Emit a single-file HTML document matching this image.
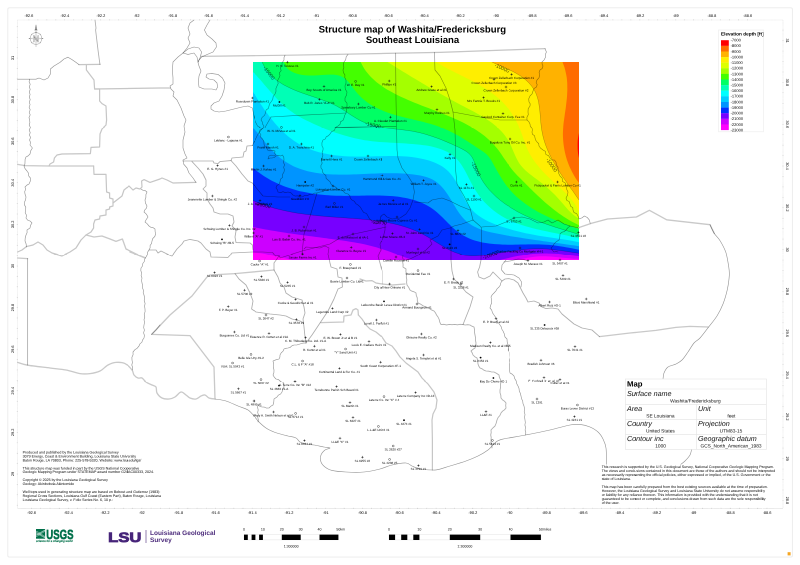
<!DOCTYPE html>
<html lang="en"><head><meta charset="utf-8"><title>Structure map of Washita/Fredericksburg - Southeast Louisiana</title>
<style>html,body{margin:0;padding:0;background:#fff}svg{display:block}text{font-family:"Liberation Sans",Arial,sans-serif}</style></head><body>
<div style="width:800px;height:565px;overflow:hidden;position:relative"><div style="width:1600px;height:1130px;transform:scale(0.5);transform-origin:0 0;will-change:transform">
<svg width="1600" height="1130" viewBox="0 0 800 565" text-rendering="geometricPrecision">
<defs><filter id="bl" x="0" y="0" width="800" height="565" filterUnits="userSpaceOnUse" color-interpolation-filters="sRGB"><feGaussianBlur stdDeviation="0.3"/></filter></defs>
<g filter="url(#bl)">
<rect x="-5" y="-5" width="810" height="575" fill="#fff"/>
<rect x="7.8" y="7.8" width="784.6" height="549.3" rx="1.6" fill="none" stroke="#ebebeb" stroke-width="0.9"/>
<rect x="17.5" y="20" width="765.5" height="488.3" fill="none" stroke="#dcdcdc" stroke-width="0.6" stroke-dasharray="0.6 0.5"/>
<g font-size="3.9" fill="#000" text-anchor="middle">
<text x="28.9" y="17.2">-92.6</text>
<text x="31.6" y="513.9">-92.6</text>
<text x="64.8" y="17.2">-92.4</text>
<text x="68.4" y="513.9">-92.4</text>
<text x="100.8" y="17.2">-92.2</text>
<text x="105.1" y="513.9">-92.2</text>
<text x="136.7" y="17.2">-92</text>
<text x="141.9" y="513.9">-92</text>
<text x="172.7" y="17.2">-91.8</text>
<text x="178.7" y="513.9">-91.8</text>
<text x="208.6" y="17.2">-91.6</text>
<text x="215.4" y="513.9">-91.6</text>
<text x="244.5" y="17.2">-91.4</text>
<text x="252.2" y="513.9">-91.4</text>
<text x="280.5" y="17.2">-91.2</text>
<text x="289" y="513.9">-91.2</text>
<text x="316.4" y="17.2">-91</text>
<text x="325.8" y="513.9">-91</text>
<text x="352.4" y="17.2">-90.8</text>
<text x="362.5" y="513.9">-90.8</text>
<text x="388.3" y="17.2">-90.6</text>
<text x="399.3" y="513.9">-90.6</text>
<text x="424.2" y="17.2">-90.4</text>
<text x="436.1" y="513.9">-90.4</text>
<text x="460.2" y="17.2">-90.2</text>
<text x="472.8" y="513.9">-90.2</text>
<text x="496.1" y="17.2">-90</text>
<text x="509.6" y="513.9">-90</text>
<text x="532.1" y="17.2">-89.8</text>
<text x="546.4" y="513.9">-89.8</text>
<text x="568" y="17.2">-89.6</text>
<text x="583.1" y="513.9">-89.6</text>
<text x="603.9" y="17.2">-89.4</text>
<text x="619.9" y="513.9">-89.4</text>
<text x="639.9" y="17.2">-89.2</text>
<text x="656.7" y="513.9">-89.2</text>
<text x="675.8" y="17.2">-89</text>
<text x="693.5" y="513.9">-89</text>
<text x="711.8" y="17.2">-88.8</text>
<text x="730.2" y="513.9">-88.8</text>
<text x="747.7" y="17.2">-88.6</text>
<text x="767" y="513.9">-88.6</text>
<text transform="translate(14.2 58) rotate(-90)">31</text>
<text transform="translate(785.8 40.6) rotate(90)">31</text>
<text transform="translate(14.2 99.6) rotate(-90)">30.8</text>
<text transform="translate(785.8 82.4) rotate(90)">30.8</text>
<text transform="translate(14.2 141.2) rotate(-90)">30.6</text>
<text transform="translate(785.8 124.2) rotate(90)">30.6</text>
<text transform="translate(14.2 182.8) rotate(-90)">30.4</text>
<text transform="translate(785.8 166) rotate(90)">30.4</text>
<text transform="translate(14.2 224.4) rotate(-90)">30.2</text>
<text transform="translate(785.8 207.8) rotate(90)">30.2</text>
<text transform="translate(14.2 266) rotate(-90)">30</text>
<text transform="translate(785.8 249.6) rotate(90)">30</text>
<text transform="translate(14.2 307.6) rotate(-90)">29.8</text>
<text transform="translate(785.8 291.4) rotate(90)">29.8</text>
<text transform="translate(14.2 349.2) rotate(-90)">29.6</text>
<text transform="translate(785.8 333.2) rotate(90)">29.6</text>
<text transform="translate(14.2 390.8) rotate(-90)">29.4</text>
<text transform="translate(785.8 375) rotate(90)">29.4</text>
<text transform="translate(14.2 432.4) rotate(-90)">29.2</text>
<text transform="translate(785.8 416.8) rotate(90)">29.2</text>
<text transform="translate(14.2 474) rotate(-90)">29</text>
<text transform="translate(785.8 458.6) rotate(90)">29</text>
<text transform="translate(785.8 500.4) rotate(90)">28.8</text>
</g>
<path d="M28.9 19.2v1.2M31.6 507.8v1.2M37.9 19.2v1.2M40.8 507.8v1.2M46.9 19.2v1.2M50 507.8v1.2M55.9 19.2v1.2M59.2 507.8v1.2M64.8 19.2v1.2M68.4 507.8v1.2M73.8 19.2v1.2M77.6 507.8v1.2M82.8 19.2v1.2M86.8 507.8v1.2M91.8 19.2v1.2M95.9 507.8v1.2M100.8 19.2v1.2M105.1 507.8v1.2M109.8 19.2v1.2M114.3 507.8v1.2M118.8 19.2v1.2M123.5 507.8v1.2M127.7 19.2v1.2M132.7 507.8v1.2M136.7 19.2v1.2M141.9 507.8v1.2M145.7 19.2v1.2M151.1 507.8v1.2M154.7 19.2v1.2M160.3 507.8v1.2M163.7 19.2v1.2M169.5 507.8v1.2M172.7 19.2v1.2M178.7 507.8v1.2M181.6 19.2v1.2M187.9 507.8v1.2M190.6 19.2v1.2M197.1 507.8v1.2M199.6 19.2v1.2M206.3 507.8v1.2M208.6 19.2v1.2M215.4 507.8v1.2M217.6 19.2v1.2M224.6 507.8v1.2M226.6 19.2v1.2M233.8 507.8v1.2M235.6 19.2v1.2M243 507.8v1.2M244.5 19.2v1.2M252.2 507.8v1.2M253.5 19.2v1.2M261.4 507.8v1.2M262.5 19.2v1.2M270.6 507.8v1.2M271.5 19.2v1.2M279.8 507.8v1.2M280.5 19.2v1.2M289 507.8v1.2M289.5 19.2v1.2M298.2 507.8v1.2M298.4 19.2v1.2M307.4 507.8v1.2M307.4 19.2v1.2M316.6 507.8v1.2M316.4 19.2v1.2M325.8 507.8v1.2M325.4 19.2v1.2M335 507.8v1.2M334.4 19.2v1.2M344.1 507.8v1.2M343.4 19.2v1.2M353.3 507.8v1.2M352.4 19.2v1.2M362.5 507.8v1.2M361.3 19.2v1.2M371.7 507.8v1.2M370.3 19.2v1.2M380.9 507.8v1.2M379.3 19.2v1.2M390.1 507.8v1.2M388.3 19.2v1.2M399.3 507.8v1.2M397.3 19.2v1.2M408.5 507.8v1.2M406.3 19.2v1.2M417.7 507.8v1.2M415.3 19.2v1.2M426.9 507.8v1.2M424.2 19.2v1.2M436.1 507.8v1.2M433.2 19.2v1.2M445.3 507.8v1.2M442.2 19.2v1.2M454.5 507.8v1.2M451.2 19.2v1.2M463.6 507.8v1.2M460.2 19.2v1.2M472.8 507.8v1.2M469.2 19.2v1.2M482 507.8v1.2M478.1 19.2v1.2M491.2 507.8v1.2M487.1 19.2v1.2M500.4 507.8v1.2M496.1 19.2v1.2M509.6 507.8v1.2M505.1 19.2v1.2M518.8 507.8v1.2M514.1 19.2v1.2M528 507.8v1.2M523.1 19.2v1.2M537.2 507.8v1.2M532.1 19.2v1.2M546.4 507.8v1.2M541 19.2v1.2M555.6 507.8v1.2M550 19.2v1.2M564.8 507.8v1.2M559 19.2v1.2M574 507.8v1.2M568 19.2v1.2M583.1 507.8v1.2M577 19.2v1.2M592.3 507.8v1.2M586 19.2v1.2M601.5 507.8v1.2M595 19.2v1.2M610.7 507.8v1.2M603.9 19.2v1.2M619.9 507.8v1.2M612.9 19.2v1.2M629.1 507.8v1.2M621.9 19.2v1.2M638.3 507.8v1.2M630.9 19.2v1.2M647.5 507.8v1.2M639.9 19.2v1.2M656.7 507.8v1.2M648.9 19.2v1.2M665.9 507.8v1.2M657.8 19.2v1.2M675.1 507.8v1.2M666.8 19.2v1.2M684.3 507.8v1.2M675.8 19.2v1.2M693.5 507.8v1.2M684.8 19.2v1.2M702.7 507.8v1.2M693.8 19.2v1.2M711.8 507.8v1.2M702.8 19.2v1.2M721 507.8v1.2M711.8 19.2v1.2M730.2 507.8v1.2M720.7 19.2v1.2M739.4 507.8v1.2M729.7 19.2v1.2M748.6 507.8v1.2M738.7 19.2v1.2M757.8 507.8v1.2M747.7 19.2v1.2M767 507.8v1.2M16.8 26.8h1.2M16.8 37.2h1.2M16.8 47.6h1.2M782.4 30.1h1.2M16.8 58h1.2M782.4 40.6h1.2M16.8 68.4h1.2M782.4 51.1h1.2M16.8 78.8h1.2M782.4 61.5h1.2M16.8 89.2h1.2M782.4 72h1.2M16.8 99.6h1.2M782.4 82.4h1.2M16.8 110h1.2M782.4 92.8h1.2M16.8 120.4h1.2M782.4 103.3h1.2M16.8 130.8h1.2M782.4 113.8h1.2M16.8 141.2h1.2M782.4 124.2h1.2M16.8 151.6h1.2M782.4 134.6h1.2M16.8 162h1.2M782.4 145.1h1.2M16.8 172.4h1.2M782.4 155.6h1.2M16.8 182.8h1.2M782.4 166h1.2M16.8 193.2h1.2M782.4 176.5h1.2M16.8 203.6h1.2M782.4 186.9h1.2M16.8 214h1.2M782.4 197.3h1.2M16.8 224.4h1.2M782.4 207.8h1.2M16.8 234.8h1.2M782.4 218.3h1.2M16.8 245.2h1.2M782.4 228.7h1.2M16.8 255.6h1.2M782.4 239.1h1.2M16.8 266h1.2M782.4 249.6h1.2M16.8 276.4h1.2M782.4 260.1h1.2M16.8 286.8h1.2M782.4 270.5h1.2M16.8 297.2h1.2M782.4 281h1.2M16.8 307.6h1.2M782.4 291.4h1.2M16.8 318h1.2M782.4 301.9h1.2M16.8 328.4h1.2M782.4 312.3h1.2M16.8 338.8h1.2M782.4 322.8h1.2M16.8 349.2h1.2M782.4 333.2h1.2M16.8 359.6h1.2M782.4 343.6h1.2M16.8 370h1.2M782.4 354.1h1.2M16.8 380.4h1.2M782.4 364.6h1.2M16.8 390.8h1.2M782.4 375h1.2M16.8 401.2h1.2M782.4 385.5h1.2M16.8 411.6h1.2M782.4 395.9h1.2M16.8 422h1.2M782.4 406.4h1.2M16.8 432.4h1.2M782.4 416.8h1.2M16.8 442.8h1.2M782.4 427.3h1.2M16.8 453.2h1.2M782.4 437.7h1.2M16.8 463.6h1.2M782.4 448.1h1.2M16.8 474h1.2M782.4 458.6h1.2M16.8 484.4h1.2M782.4 469.1h1.2M16.8 494.8h1.2M782.4 479.5h1.2M16.8 505.2h1.2M782.4 490h1.2M782.4 500.4h1.2" stroke="#c8c8c8" stroke-width="0.5" fill="none"/>
<defs><clipPath id="cr"><rect x="253" y="62" width="326" height="198"/></clipPath></defs>
<g clip-path="url(#cr)">
<rect x="253" y="62" width="326" height="198" fill="#ff6c00"/>
<path d="M560.4 56.4 C560.8 57.3 561.8 60.2 562.5 62 C563.2 63.8 563.8 65.4 564.4 67.1 C564.9 68.8 565.4 70.5 565.7 72.2 C566.1 73.9 566.4 75.6 566.7 77.3 C566.9 79 567.1 80.8 567.2 82.5 C567.3 84.2 567.3 85.9 567.3 87.6 C567.4 89.4 567.3 91.1 567.2 92.8 C567.2 94.5 567 96.3 566.9 98 C566.7 99.7 566.5 101.5 566.3 103.2 C566.1 104.9 565.9 106.7 565.7 108.4 C565.4 110.1 565.2 111.9 564.9 113.6 C564.7 115.3 564.4 117.1 564.2 118.8 C563.9 120.5 563.7 122.3 563.5 124 C563.3 125.7 563.2 127.5 563.1 129.2 C563 130.9 562.9 132.6 562.9 134.4 C562.9 136.1 563 137.8 563.1 139.5 C563.2 141.2 563.4 142.9 563.6 144.6 C563.8 146.3 564.1 148 564.4 149.7 C564.7 151.4 565.1 153.1 565.5 154.7 C565.9 156.4 566.4 158.1 566.9 159.7 C567.5 161.3 568.1 163 568.7 164.6 C569.3 166.2 570 167.8 570.8 169.3 C571.5 170.9 572.3 172.5 573.2 174 C574.1 175.6 575 177.1 575.9 178.6 C576.9 180.1 577.9 181.4 579 183 C580.1 184.6 581.8 187.1 582.4 187.9 L609 187.9 L609 290 L223 290 L223 32 L560.4 32Z" fill="#ffb200"/>
<path d="M486.6 59.5 C487.5 59.9 490.4 61.2 492 62 C493.6 62.8 494.9 63.4 496.4 64.1 C498 64.8 499.6 65.4 501.2 66.1 C502.8 66.8 504.5 67.6 506.1 68.3 C507.8 69.1 509.4 69.8 511.1 70.6 C512.7 71.4 514.4 72.3 516 73.2 C517.5 74.1 519.1 75 520.6 76 C522.1 77 523.5 78.1 524.9 79.2 C526.2 80.3 527.5 81.5 528.7 82.7 C529.9 84 531 85.3 532 86.6 C533 88 534 89.4 534.7 90.8 C535.5 92.3 536.2 93.8 536.7 95.4 C537.3 97 537.8 98.6 538.2 100.3 C538.6 101.9 538.9 103.6 539.1 105.4 C539.4 107.1 539.6 108.9 539.8 110.6 C540 112.4 540.1 114.2 540.3 116 C540.4 117.8 540.5 119.6 540.7 121.3 C540.9 123.1 541 124.9 541.3 126.7 C541.5 128.4 541.7 130.2 542.1 131.9 C542.4 133.6 542.7 135.3 543.2 137 C543.6 138.7 544.1 140.4 544.6 142 C545.1 143.6 545.7 145.2 546.3 146.8 C546.9 148.4 547.6 150 548.3 151.6 C549 153.1 549.7 154.7 550.5 156.2 C551.2 157.8 552 159.3 552.9 160.8 C553.7 162.3 554.6 163.8 555.4 165.3 C556.3 166.8 557.2 168.2 558.1 169.7 C559.1 171.2 560 172.6 561 174.1 C561.9 175.5 562.9 177 563.9 178.4 C564.9 179.9 565.9 181.3 566.9 182.7 C567.9 184.2 568.9 185.6 569.9 187 C570.9 188.5 572 189.9 573 191.3 C574 192.8 575 194.2 576 195.7 C577 197.1 577.9 198.5 579 200 C580.1 201.5 581.8 204.1 582.4 204.9 L609 204.9 L609 290 L223 290 L223 32 L486.6 32Z" fill="#ffee00"/>
<path d="M430.9 58.9 C431.7 59.4 434.4 61.1 436 62 C437.6 62.9 438.9 63.7 440.3 64.6 C441.8 65.4 443.3 66.3 444.8 67.1 C446.3 67.9 447.8 68.7 449.4 69.5 C450.9 70.3 452.5 71.1 454 71.9 C455.6 72.7 457.2 73.5 458.8 74.2 C460.4 75 462 75.8 463.6 76.6 C465.1 77.4 466.7 78.2 468.3 79 C469.9 79.8 471.5 80.6 473.1 81.5 C474.6 82.3 476.2 83.2 477.7 84 C479.3 84.9 480.8 85.8 482.3 86.7 C483.8 87.6 485.3 88.5 486.8 89.5 C488.3 90.4 489.7 91.4 491.1 92.4 C492.5 93.5 493.9 94.5 495.3 95.6 C496.6 96.7 497.9 97.8 499.2 98.9 C500.5 100.1 501.7 101.3 502.9 102.5 C504.1 103.7 505.2 105 506.3 106.3 C507.4 107.6 508.5 109 509.5 110.3 C510.5 111.7 511.5 113.1 512.4 114.6 C513.4 116 514.2 117.5 515.1 119 C515.9 120.5 516.7 122 517.5 123.6 C518.2 125.2 518.9 126.7 519.6 128.4 C520.3 130 520.9 131.6 521.5 133.3 C522.1 134.9 522.7 136.6 523.2 138.3 C523.8 139.9 524.4 141.6 525 143.2 C525.6 144.9 526.2 146.5 526.9 148.1 C527.6 149.7 528.4 151.2 529.1 152.7 C529.9 154.3 530.8 155.7 531.7 157.2 C532.6 158.6 533.6 160.1 534.5 161.4 C535.5 162.8 536.6 164.2 537.7 165.5 C538.7 166.9 539.9 168.2 541 169.5 C542.1 170.8 543.3 172 544.5 173.3 C545.7 174.5 547 175.7 548.2 177 C549.5 178.2 550.7 179.4 552 180.6 C553.3 181.8 554.6 182.9 555.9 184.1 C557.2 185.3 558.5 186.4 559.8 187.6 C561.1 188.8 562.4 190 563.6 191.2 C564.9 192.4 566.1 193.6 567.3 194.8 C568.5 196.1 569.7 197.4 570.8 198.7 C571.9 200 573 201.4 574 202.8 C574.9 204.2 575.9 205.7 576.7 207.2 C577.6 208.7 578.2 210.3 579 212 C579.8 213.7 581.1 216.5 581.6 217.4 L609 217.4 L609 290 L223 290 L223 32 L430.9 32Z" fill="#ddff00"/>
<path d="M382.4 58.8 C383.3 59.4 385.9 61 387.5 62 C389.1 63 390.5 63.9 392 64.8 C393.4 65.7 394.9 66.6 396.4 67.5 C397.9 68.4 399.3 69.3 400.8 70.2 C402.3 71.1 403.7 72 405.2 72.9 C406.7 73.8 408.1 74.7 409.6 75.6 C411 76.5 412.5 77.4 414 78.3 C415.4 79.1 416.9 80 418.4 80.9 C419.8 81.8 421.3 82.6 422.7 83.5 C424.2 84.4 425.7 85.2 427.1 86.1 C428.6 86.9 430.1 87.8 431.5 88.7 C433 89.5 434.5 90.4 436 91.2 C437.5 92.1 438.9 92.9 440.4 93.7 C441.9 94.6 443.4 95.4 444.9 96.3 C446.4 97.1 447.9 97.9 449.4 98.7 C450.9 99.6 452.4 100.4 454 101.2 C455.5 102 457 102.9 458.6 103.7 C460.1 104.5 461.6 105.3 463.2 106.1 C464.7 106.9 466.3 107.8 467.9 108.6 C469.4 109.4 471 110.2 472.5 111 C474.1 111.9 475.6 112.7 477.2 113.6 C478.7 114.4 480.2 115.3 481.7 116.2 C483.2 117.1 484.7 118 486.1 118.9 C487.6 119.9 489 120.8 490.4 121.8 C491.8 122.8 493.1 123.8 494.4 124.9 C495.8 126 497 127.1 498.3 128.2 C499.5 129.4 500.7 130.5 501.8 131.8 C502.9 133 504 134.3 505 135.6 C506 137 507 138.4 507.8 139.8 C508.7 141.3 509.5 142.8 510.3 144.3 C511 145.9 511.7 147.5 512.4 149.1 C513.1 150.8 513.8 152.4 514.5 154 C515.2 155.6 515.9 157.2 516.7 158.8 C517.5 160.3 518.3 161.8 519.2 163.2 C520.2 164.6 521.2 165.9 522.3 167.1 C523.4 168.4 524.6 169.5 525.8 170.7 C527.1 171.8 528.4 172.9 529.7 174 C531 175 532.4 176 533.7 177.1 C535.1 178.1 536.5 179.1 537.9 180.1 C539.3 181.2 540.6 182.2 542 183.3 C543.3 184.3 544.6 185.4 545.9 186.5 C547.2 187.7 548.5 188.8 549.8 190 C551 191.1 552.3 192.3 553.5 193.5 C554.7 194.7 555.9 195.9 557.1 197.2 C558.2 198.4 559.4 199.7 560.5 201 C561.7 202.3 562.8 203.6 563.9 204.9 C565 206.2 566.1 207.5 567.2 208.7 C568.4 210 569.5 211.3 570.8 212.5 C572 213.6 573.2 214.8 574.6 215.8 C576 216.9 577.4 217.7 579 218.7 C580.6 219.7 583.2 221.4 584 222 L609 222 L609 290 L223 290 L223 32 L382.4 32Z" fill="#a4ff00"/>
<path d="M357.8 56.7 C358.3 57.6 359.7 60.3 360.6 62 C361.5 63.7 362.2 65.2 363.1 66.7 C364 68.2 364.9 69.7 365.9 71.1 C367 72.5 368.1 73.8 369.2 75.1 C370.3 76.4 371.5 77.6 372.8 78.8 C374 80 375.3 81.1 376.6 82.2 C378 83.2 379.3 84.3 380.7 85.3 C382.1 86.3 383.5 87.2 385 88.2 C386.4 89.1 387.9 90 389.4 90.8 C390.9 91.7 392.4 92.5 393.9 93.3 C395.4 94.1 397 94.9 398.5 95.6 C400 96.4 401.6 97.1 403.1 97.8 C404.7 98.5 406.2 99.2 407.8 99.9 C409.4 100.6 410.9 101.2 412.5 101.9 C414.1 102.5 415.7 103.2 417.3 103.8 C418.9 104.4 420.5 105.1 422.1 105.7 C423.6 106.3 425.3 106.9 426.9 107.5 C428.5 108.1 430.1 108.7 431.7 109.4 C433.3 110 434.9 110.6 436.6 111.2 C438.2 111.8 439.8 112.5 441.4 113.1 C443.1 113.8 444.7 114.4 446.3 115.1 C447.9 115.7 449.5 116.4 451.1 117.1 C452.7 117.8 454.3 118.5 455.9 119.2 C457.5 119.9 459.1 120.6 460.6 121.4 C462.2 122.1 463.7 122.9 465.3 123.7 C466.8 124.5 468.3 125.3 469.8 126.2 C471.3 127 472.8 127.9 474.2 128.8 C475.7 129.7 477.1 130.6 478.5 131.6 C479.9 132.5 481.3 133.5 482.6 134.5 C484 135.5 485.3 136.6 486.6 137.7 C487.8 138.8 489.1 139.9 490.3 141.1 C491.5 142.3 492.7 143.5 493.9 144.7 C495 146 496.1 147.3 497.2 148.6 C498.3 149.9 499.3 151.3 500.3 152.8 C501.3 154.2 502.3 155.6 503.2 157.1 C504.2 158.5 505.2 160 506.2 161.4 C507.1 162.8 508.1 164.3 509.1 165.7 C510.1 167.1 511.2 168.4 512.2 169.8 C513.3 171.1 514.4 172.4 515.6 173.6 C516.7 174.9 517.9 176.1 519.1 177.3 C520.3 178.5 521.5 179.7 522.7 180.9 C523.9 182.1 525.1 183.3 526.3 184.5 C527.5 185.7 528.7 186.9 529.9 188.1 C531.2 189.3 532.4 190.5 533.6 191.7 C534.9 192.9 536.1 194.1 537.3 195.2 C538.6 196.4 539.8 197.6 541.1 198.7 C542.4 199.9 543.6 201.1 544.9 202.2 C546.2 203.3 547.5 204.4 548.8 205.5 C550.2 206.6 551.5 207.7 552.8 208.8 C554.2 209.9 555.5 210.9 556.9 211.9 C558.3 213 559.7 214 561.1 214.9 C562.5 215.9 563.9 216.9 565.4 217.8 C566.8 218.7 568.3 219.6 569.8 220.5 C571.3 221.3 572.8 222.1 574.3 222.9 C575.9 223.7 577.3 224.4 579 225.2 C580.7 226 583.5 227.4 584.4 227.8 L609 227.8 L609 290 L223 290 L223 32 L357.8 32Z" fill="#44ff00"/>
<path d="M281.1 56.6 C281.5 57.5 282.9 60.3 283.7 62 C284.6 63.7 285.1 65.3 286.1 66.7 C287 68 288.2 69.2 289.5 70.2 C290.8 71.1 292.3 71.9 293.8 72.6 C295.4 73.3 297 73.8 298.7 74.2 C300.3 74.6 302 74.9 303.7 75.1 C305.4 75.3 307.1 75.4 308.8 75.5 C310.5 75.6 312.2 75.5 313.9 75.5 C315.6 75.4 317.3 75.3 319 75.2 C320.7 75.1 322.4 75 324.2 74.9 C325.9 74.8 327.6 74.6 329.4 74.6 C331.1 74.6 332.8 74.5 334.5 74.7 C336.1 74.9 337.8 75.1 339.3 75.6 C340.8 76 342.2 76.7 343.6 77.6 C344.9 78.4 346.2 79.6 347.4 80.8 C348.6 82 349.7 83.4 350.8 84.8 C351.9 86.2 352.9 87.8 354.1 89.2 C355.2 90.6 356.3 92 357.4 93.4 C358.6 94.7 359.8 95.9 361 97.1 C362.3 98.3 363.5 99.4 364.8 100.4 C366.1 101.5 367.5 102.5 368.8 103.4 C370.2 104.3 371.6 105.2 373 106 C374.4 106.8 375.9 107.6 377.4 108.3 C378.8 109 380.3 109.7 381.8 110.3 C383.3 111 384.9 111.5 386.4 112.1 C388 112.7 389.6 113.2 391.1 113.7 C392.7 114.2 394.3 114.7 395.9 115.2 C397.5 115.6 399.2 116.1 400.8 116.5 C402.4 116.9 404.1 117.3 405.7 117.7 C407.4 118.1 409 118.5 410.7 118.9 C412.3 119.3 414 119.7 415.6 120.1 C417.3 120.5 418.9 120.9 420.6 121.3 C422.3 121.7 423.9 122.1 425.6 122.6 C427.2 123 428.8 123.5 430.5 123.9 C432.1 124.4 433.7 124.9 435.3 125.4 C436.9 126 438.6 126.5 440.1 127.1 C441.7 127.7 443.3 128.3 444.8 129 C446.4 129.7 447.9 130.4 449.5 131.1 C451 131.8 452.5 132.6 454 133.4 C455.5 134.2 457 135 458.5 135.8 C459.9 136.7 461.4 137.5 462.8 138.4 C464.3 139.3 465.7 140.2 467.2 141.1 C468.6 142 470 142.9 471.4 143.9 C472.9 144.8 474.3 145.7 475.7 146.7 C477.1 147.6 478.5 148.5 479.9 149.5 C481.3 150.4 482.7 151.3 484 152.3 C485.3 153.3 486.6 154.3 487.7 155.5 C488.8 156.7 489.7 158 490.6 159.3 C491.5 160.7 492.3 162.2 493.1 163.6 C493.9 165.1 494.7 166.6 495.5 168 C496.3 169.5 497.1 171 498 172.4 C498.8 173.9 499.7 175.4 500.6 176.8 C501.5 178.3 502.4 179.7 503.3 181.1 C504.3 182.5 505.2 183.9 506.2 185.3 C507.2 186.6 508.3 187.9 509.4 189.2 C510.5 190.5 511.6 191.7 512.7 192.9 C513.9 194.2 515.1 195.3 516.3 196.5 C517.6 197.6 518.8 198.7 520.1 199.8 C521.4 200.8 522.8 201.9 524.1 202.9 C525.5 203.9 526.8 204.9 528.2 205.8 C529.6 206.8 531.1 207.7 532.5 208.6 C534 209.5 535.4 210.3 536.9 211.2 C538.4 212 539.9 212.8 541.4 213.6 C543 214.4 544.5 215.2 546 215.9 C547.6 216.6 549.1 217.4 550.7 218.1 C552.3 218.8 553.8 219.5 555.4 220.1 C557 220.8 558.6 221.4 560.2 222.1 C561.7 222.7 563.3 223.3 564.9 223.9 C566.5 224.5 568.1 225.1 569.6 225.7 C571.2 226.3 572.8 226.8 574.3 227.4 C575.9 227.9 577.3 228.4 579 229 C580.7 229.6 583.7 230.7 584.7 231 L609 231 L609 290 L223 290 L223 32 L281.1 32Z" fill="#00ff64"/>
<path d="M259.3 56.7 C259.7 57.6 261.1 60.3 262 62 C262.9 63.7 263.6 65.2 264.4 66.7 C265.3 68.2 266.3 69.7 267.3 71 C268.3 72.3 269.4 73.6 270.6 74.8 C271.7 76 272.9 77.1 274.2 78.2 C275.4 79.3 276.8 80.3 278.1 81.3 C279.5 82.2 280.9 83.1 282.3 84 C283.7 84.9 285.2 85.7 286.7 86.4 C288.2 87.2 289.7 87.9 291.3 88.6 C292.8 89.3 294.4 90 296 90.7 C297.6 91.3 299.2 91.9 300.8 92.5 C302.4 93.1 304.1 93.7 305.7 94.2 C307.3 94.8 308.9 95.3 310.6 95.9 C312.2 96.4 313.8 97 315.4 97.5 C317 98 318.6 98.6 320.2 99.1 C321.8 99.7 323.4 100.3 324.9 100.9 C326.5 101.4 328 102.1 329.6 102.7 C331.1 103.4 332.6 104.1 334.1 104.8 C335.7 105.5 337.1 106.3 338.6 107.2 C340.1 108 341.6 108.9 343 109.8 C344.5 110.7 345.9 111.7 347.4 112.6 C348.8 113.6 350.3 114.6 351.7 115.5 C353.2 116.4 354.7 117.4 356.1 118.2 C357.6 119.1 359.1 119.9 360.6 120.7 C362.1 121.5 363.6 122.2 365.2 122.8 C366.7 123.4 368.3 124 369.9 124.5 C371.5 125 373.1 125.4 374.7 125.8 C376.3 126.2 378 126.5 379.6 126.8 C381.3 127.1 382.9 127.4 384.6 127.7 C386.3 127.9 387.9 128.1 389.6 128.3 C391.3 128.5 393 128.7 394.7 128.9 C396.4 129.1 398.1 129.3 399.7 129.5 C401.4 129.7 403.1 129.8 404.8 130.1 C406.5 130.3 408.2 130.5 409.8 130.8 C411.5 131 413.2 131.3 414.8 131.7 C416.5 132 418.1 132.3 419.7 132.7 C421.4 133.1 423 133.6 424.6 134 C426.2 134.5 427.8 134.9 429.4 135.5 C431 136 432.6 136.5 434.2 137.1 C435.8 137.6 437.4 138.2 439 138.8 C440.6 139.4 442.2 140 443.7 140.7 C445.3 141.3 446.9 142 448.5 142.7 C450 143.3 451.6 144 453.2 144.8 C454.7 145.5 456.3 146.2 457.9 146.9 C459.4 147.7 461 148.4 462.5 149.2 C464 150 465.5 150.9 466.8 151.8 C468.1 152.8 469.3 153.8 470.3 154.9 C471.4 156.1 472.2 157.4 472.9 158.8 C473.7 160.2 474.2 161.7 474.8 163.3 C475.4 164.8 475.9 166.4 476.5 168 C477.1 169.5 477.7 171.1 478.3 172.7 C479 174.2 479.7 175.8 480.5 177.3 C481.3 178.8 482.2 180.2 483.1 181.7 C484 183.1 485 184.5 486 185.8 C487 187.2 488.1 188.5 489.2 189.8 C490.4 191.1 491.5 192.3 492.8 193.5 C494 194.7 495.2 195.9 496.5 197.1 C497.8 198.2 499.1 199.3 500.4 200.4 C501.8 201.4 503.1 202.5 504.5 203.5 C505.9 204.5 507.3 205.4 508.7 206.3 C510.1 207.3 511.5 208.2 513 209 C514.4 209.9 515.9 210.7 517.3 211.6 C518.8 212.4 520.3 213.1 521.8 213.9 C523.3 214.7 524.8 215.4 526.3 216.1 C527.9 216.8 529.4 217.5 530.9 218.2 C532.5 218.8 534 219.5 535.6 220.1 C537.2 220.8 538.7 221.4 540.3 222 C541.9 222.6 543.5 223.1 545.1 223.7 C546.7 224.3 548.3 224.8 549.9 225.4 C551.5 225.9 553.1 226.4 554.7 227 C556.3 227.5 558 228 559.6 228.5 C561.2 229 562.8 229.5 564.4 230 C566.1 230.5 567.7 231 569.3 231.5 C570.9 232 572.5 232.5 574.2 233 C575.8 233.5 577.2 234 579 234.5 C580.8 235 583.8 236 584.7 236.3 L609 236.3 L609 290 L223 290 L223 32 L259.3 32Z" fill="#00ffb6"/>
<path d="M248.8 67.7 C249.5 68.4 251.7 70.7 253 72 C254.3 73.3 255.3 74.4 256.5 75.6 C257.6 76.8 258.7 78.1 259.9 79.3 C261 80.6 262.1 81.9 263.2 83.2 C264.3 84.5 265.4 85.8 266.5 87.1 C267.7 88.4 268.8 89.7 269.9 91 C271 92.3 272.1 93.6 273.3 94.8 C274.4 96.1 275.6 97.4 276.8 98.6 C277.9 99.9 279.1 101.1 280.3 102.3 C281.5 103.4 282.7 104.6 284 105.7 C285.3 106.8 286.5 107.9 287.8 109 C289.2 110 290.5 111 291.9 111.9 C293.2 112.9 294.6 113.8 296 114.7 C297.4 115.6 298.9 116.4 300.3 117.2 C301.8 118 303.3 118.8 304.8 119.6 C306.3 120.3 307.8 121.1 309.3 121.8 C310.8 122.5 312.3 123.3 313.9 124 C315.4 124.7 317 125.4 318.5 126 C320.1 126.7 321.7 127.4 323.3 128 C324.8 128.7 326.4 129.3 328 129.9 C329.6 130.5 331.2 131.1 332.8 131.7 C334.4 132.3 336 132.8 337.7 133.4 C339.3 133.9 340.9 134.4 342.5 134.9 C344.2 135.4 345.8 135.9 347.4 136.3 C349.1 136.8 350.7 137.2 352.4 137.6 C354 138 355.6 138.4 357.3 138.7 C358.9 139.1 360.6 139.4 362.2 139.7 C363.9 140 365.5 140.3 367.2 140.5 C368.8 140.7 370.5 141 372.1 141.2 C373.8 141.3 375.5 141.5 377.1 141.7 C378.8 141.8 380.4 142 382.1 142.1 C383.8 142.2 385.4 142.3 387.1 142.4 C388.8 142.6 390.4 142.7 392.1 142.8 C393.8 142.8 395.5 142.9 397.2 143 C398.9 143.1 400.6 143.2 402.3 143.3 C404 143.4 405.7 143.5 407.4 143.6 C409.1 143.7 410.8 143.9 412.5 144 C414.2 144.1 416 144.3 417.7 144.5 C419.4 144.6 421.2 144.8 422.9 145.1 C424.6 145.3 426.3 145.5 428 145.8 C429.7 146.1 431.4 146.5 433.1 146.9 C434.7 147.3 436.4 147.7 438 148.2 C439.6 148.7 441.2 149.2 442.7 149.9 C444.3 150.5 445.8 151.2 447.3 151.9 C448.7 152.7 450.1 153.5 451.4 154.4 C452.7 155.4 454 156.3 455.2 157.4 C456.4 158.5 457.4 159.7 458.5 160.9 C459.5 162.1 460.4 163.4 461.4 164.8 C462.3 166.1 463.1 167.6 464 169 C464.8 170.4 465.6 171.9 466.4 173.4 C467.2 174.9 467.9 176.5 468.7 178 C469.5 179.5 470.3 181.1 471.1 182.6 C471.9 184.1 472.7 185.7 473.6 187.2 C474.4 188.6 475.3 190.1 476.3 191.5 C477.2 193 478.2 194.4 479.2 195.7 C480.3 197.1 481.3 198.4 482.4 199.7 C483.5 201 484.7 202.3 485.9 203.5 C487 204.7 488.3 205.9 489.5 207 C490.7 208.2 492 209.2 493.3 210.3 C494.6 211.3 496 212.3 497.3 213.3 C498.7 214.2 500.1 215.2 501.5 216 C503 216.9 504.4 217.7 505.9 218.5 C507.4 219.2 508.9 219.9 510.4 220.6 C511.9 221.3 513.4 222 515 222.6 C516.5 223.2 518.1 223.8 519.7 224.3 C521.3 224.9 522.9 225.4 524.5 225.9 C526.1 226.4 527.8 226.9 529.4 227.3 C531 227.8 532.7 228.2 534.4 228.6 C536 229 537.7 229.4 539.4 229.8 C541 230.2 542.7 230.6 544.4 230.9 C546.1 231.3 547.7 231.6 549.4 232 C551.1 232.3 552.8 232.6 554.5 233 C556.1 233.3 557.8 233.6 559.5 234 C561.1 234.3 562.8 234.7 564.4 235 C566.1 235.4 567.7 235.7 569.4 236.1 C571 236.5 572.6 236.9 574.2 237.3 C575.8 237.7 577.2 238 579 238.5 C580.8 239 583.8 239.8 584.8 240 L609 240 L609 290 L223 290 L223 67.7Z" fill="#00ffff"/>
<path d="M249.8 86.9 C250.4 87.7 252 90.4 253 92 C254 93.6 254.8 94.9 255.7 96.3 C256.6 97.7 257.5 99.2 258.4 100.6 C259.3 102 260.3 103.5 261.2 104.9 C262.2 106.3 263.2 107.8 264.1 109.2 C265.1 110.6 266.1 112 267.2 113.4 C268.2 114.8 269.2 116.2 270.3 117.6 C271.4 118.9 272.5 120.3 273.6 121.6 C274.7 122.9 275.8 124.2 276.9 125.5 C278.1 126.8 279.3 128 280.5 129.2 C281.7 130.4 282.9 131.6 284.1 132.8 C285.4 133.9 286.6 135.1 287.9 136.2 C289.2 137.2 290.5 138.3 291.9 139.3 C293.2 140.3 294.6 141.2 296 142.1 C297.4 143 298.8 143.9 300.3 144.7 C301.7 145.5 303.2 146.3 304.7 147 C306.3 147.7 307.8 148.4 309.4 149 C310.9 149.6 312.5 150.2 314.1 150.7 C315.7 151.2 317.4 151.7 319 152.2 C320.7 152.6 322.3 153 324 153.4 C325.7 153.8 327.4 154.1 329.1 154.4 C330.8 154.7 332.5 155 334.2 155.2 C335.9 155.4 337.7 155.6 339.4 155.8 C341.1 156 342.9 156.1 344.6 156.2 C346.4 156.3 348.1 156.4 349.9 156.5 C351.6 156.5 353.3 156.6 355.1 156.6 C356.8 156.6 358.6 156.6 360.3 156.6 C362 156.6 363.8 156.6 365.5 156.6 C367.2 156.5 369 156.5 370.7 156.5 C372.4 156.4 374.1 156.4 375.9 156.3 C377.6 156.3 379.3 156.2 381 156.2 C382.8 156.1 384.5 156.1 386.2 156.1 C387.9 156 389.6 156 391.3 156 C393 156 394.7 156 396.4 156.1 C398.1 156.1 399.8 156.2 401.5 156.2 C403.2 156.3 404.9 156.4 406.6 156.5 C408.2 156.7 409.9 156.8 411.6 157 C413.3 157.2 414.9 157.5 416.6 157.7 C418.3 158 419.9 158.3 421.6 158.7 C423.2 159 424.9 159.4 426.5 159.9 C428.2 160.3 429.8 160.8 431.4 161.4 C433 161.9 434.6 162.5 436.1 163.2 C437.7 163.9 439.2 164.7 440.6 165.5 C442 166.3 443.4 167.2 444.7 168.2 C446.1 169.2 447.3 170.3 448.5 171.5 C449.6 172.7 450.7 174 451.7 175.3 C452.8 176.6 453.7 178 454.6 179.5 C455.6 180.9 456.4 182.4 457.2 183.9 C458 185.5 458.8 187.1 459.6 188.6 C460.3 190.2 461.1 191.8 461.8 193.4 C462.6 195 463.3 196.6 464.1 198.1 C464.9 199.6 465.7 201.1 466.6 202.6 C467.5 204 468.4 205.5 469.4 206.8 C470.4 208.1 471.4 209.4 472.6 210.5 C473.7 211.7 474.9 212.8 476.2 213.9 C477.5 214.9 478.8 215.9 480.2 216.8 C481.6 217.7 483 218.6 484.5 219.4 C485.9 220.2 487.5 221 489 221.7 C490.6 222.4 492.1 223.1 493.7 223.8 C495.3 224.4 496.9 225 498.6 225.6 C500.2 226.2 501.8 226.7 503.5 227.3 C505.1 227.8 506.8 228.3 508.4 228.8 C510.1 229.3 511.8 229.8 513.4 230.3 C515.1 230.7 516.8 231.1 518.5 231.5 C520.1 232 521.8 232.4 523.5 232.7 C525.2 233.1 526.9 233.5 528.6 233.8 C530.2 234.1 531.9 234.5 533.6 234.8 C535.3 235.1 537 235.4 538.7 235.7 C540.3 236 542 236.2 543.7 236.5 C545.4 236.8 547.1 237 548.7 237.2 C550.4 237.5 552.1 237.7 553.8 238 C555.4 238.2 557.1 238.5 558.8 238.7 C560.5 239 562.1 239.2 563.8 239.5 C565.5 239.7 567.2 240 568.9 240.3 C570.5 240.6 572.2 240.9 573.9 241.2 C575.6 241.5 577.2 241.8 579 242.2 C580.8 242.6 583.9 243.2 584.9 243.4 L609 243.4 L609 290 L223 290 L223 86.9Z" fill="#00ceff"/>
<path d="M248.8 123.7 C249.5 124.4 251.7 126.7 253 128 C254.3 129.3 255.3 130.3 256.4 131.5 C257.5 132.7 258.5 134 259.6 135.3 C260.6 136.6 261.6 138 262.7 139.3 C263.7 140.6 264.8 142 265.9 143.3 C267 144.7 268.1 146 269.2 147.3 C270.4 148.6 271.6 149.8 272.8 151.1 C274 152.3 275.3 153.5 276.6 154.7 C277.9 155.9 279.2 157 280.5 158.1 C281.9 159.1 283.2 160.1 284.6 161.1 C286.1 162.1 287.5 163 289 163.8 C290.4 164.7 291.9 165.4 293.4 166.2 C295 166.9 296.5 167.5 298.1 168.1 C299.6 168.8 301.2 169.3 302.8 169.8 C304.4 170.3 306.1 170.8 307.7 171.2 C309.3 171.6 311 171.9 312.7 172.3 C314.3 172.6 316 172.9 317.7 173.1 C319.4 173.4 321.1 173.6 322.8 173.8 C324.5 173.9 326.3 174.1 328 174.2 C329.7 174.3 331.4 174.4 333.1 174.5 C334.9 174.5 336.6 174.6 338.3 174.6 C340 174.6 341.7 174.7 343.5 174.6 C345.2 174.6 346.9 174.6 348.6 174.6 C350.3 174.5 352 174.5 353.7 174.4 C355.4 174.4 357.1 174.3 358.8 174.2 C360.5 174.2 362.2 174.1 364 174 C365.7 174 367.4 173.9 369.1 173.8 C370.8 173.7 372.5 173.6 374.2 173.6 C375.9 173.5 377.6 173.4 379.3 173.4 C381 173.3 382.7 173.3 384.4 173.3 C386.1 173.2 387.8 173.2 389.5 173.2 C391.2 173.2 392.9 173.2 394.6 173.2 C396.3 173.2 398 173.3 399.7 173.4 C401.4 173.4 403.2 173.5 404.9 173.6 C406.6 173.8 408.3 173.9 410 174.1 C411.7 174.2 413.5 174.4 415.2 174.7 C416.9 174.9 418.6 175.2 420.3 175.5 C422 175.9 423.7 176.3 425.3 176.7 C426.9 177.2 428.5 177.7 430 178.4 C431.5 179 433 179.8 434.4 180.6 C435.7 181.5 437 182.4 438.3 183.5 C439.5 184.5 440.7 185.7 441.8 186.9 C442.9 188.1 444 189.4 445 190.8 C446.1 192.1 447 193.6 448 195 C449 196.5 449.9 198 450.8 199.5 C451.7 201 452.6 202.6 453.5 204.1 C454.5 205.6 455.4 207.2 456.3 208.7 C457.3 210.2 458.2 211.6 459.2 213.1 C460.2 214.5 461.2 215.8 462.3 217.1 C463.4 218.4 464.6 219.6 465.8 220.7 C467 221.9 468.3 222.9 469.6 223.8 C470.9 224.7 472.3 225.6 473.8 226.4 C475.2 227.1 476.7 227.8 478.3 228.5 C479.8 229.1 481.4 229.7 483 230.2 C484.6 230.7 486.2 231.2 487.9 231.6 C489.5 232 491.2 232.4 492.9 232.8 C494.6 233.2 496.3 233.5 498 233.8 C499.7 234.2 501.4 234.5 503.1 234.8 C504.8 235.1 506.5 235.4 508.2 235.7 C509.8 236 511.5 236.3 513.2 236.6 C514.9 236.9 516.6 237.1 518.3 237.4 C520 237.7 521.7 237.9 523.3 238.2 C525 238.5 526.7 238.7 528.4 239 C530.1 239.2 531.8 239.5 533.4 239.7 C535.1 240 536.8 240.2 538.5 240.4 C540.2 240.7 541.8 240.9 543.5 241.2 C545.2 241.4 546.9 241.6 548.6 241.9 C550.2 242.1 551.9 242.3 553.6 242.6 C555.3 242.8 557 243 558.7 243.3 C560.4 243.5 562 243.7 563.7 244 C565.4 244.2 567.1 244.5 568.8 244.7 C570.5 244.9 572.2 245.2 573.9 245.4 C575.6 245.7 577.2 245.9 579 246.2 C580.8 246.5 583.9 246.9 584.9 247.1 L609 247.1 L609 290 L223 290 L223 123.7Z" fill="#0094ff"/>
<path d="M248.3 164.2 C249.1 164.9 251.5 166.8 253 168 C254.5 169.2 255.7 170.2 257.1 171.3 C258.5 172.3 259.9 173.3 261.3 174.3 C262.7 175.3 264.1 176.2 265.6 177.1 C267 178 268.5 178.8 270 179.7 C271.5 180.5 273 181.3 274.5 182 C276 182.8 277.5 183.5 279.1 184.1 C280.6 184.8 282.2 185.4 283.7 186.1 C285.3 186.7 286.9 187.2 288.5 187.8 C290 188.3 291.6 188.8 293.3 189.3 C294.9 189.8 296.5 190.2 298.1 190.7 C299.8 191.1 301.4 191.5 303 191.8 C304.7 192.2 306.4 192.5 308 192.8 C309.7 193.1 311.4 193.4 313 193.7 C314.7 193.9 316.4 194.2 318.1 194.4 C319.8 194.6 321.5 194.8 323.2 194.9 C324.9 195.1 326.6 195.2 328.3 195.3 C330 195.5 331.7 195.5 333.4 195.6 C335.2 195.7 336.9 195.8 338.6 195.8 C340.3 195.8 342 195.9 343.8 195.9 C345.5 195.9 347.2 195.9 348.9 195.8 C350.6 195.8 352.4 195.8 354.1 195.8 C355.8 195.7 357.5 195.7 359.3 195.7 C361 195.6 362.7 195.6 364.4 195.6 C366.1 195.5 367.9 195.5 369.6 195.5 C371.3 195.5 373 195.5 374.7 195.5 C376.4 195.5 378.1 195.5 379.8 195.5 C381.5 195.6 383.2 195.6 384.9 195.7 C386.6 195.7 388.3 195.8 390 196 C391.7 196.1 393.4 196.2 395.1 196.4 C396.7 196.6 398.4 196.8 400.1 197 C401.7 197.3 403.4 197.6 405.1 197.9 C406.7 198.2 408.4 198.6 410 199 C411.6 199.4 413.3 199.8 414.9 200.3 C416.5 200.8 418.1 201.4 419.6 202 C421.2 202.6 422.7 203.2 424.3 204 C425.8 204.7 427.2 205.5 428.7 206.4 C430.1 207.2 431.5 208.1 432.9 209.1 C434.3 210.1 435.6 211.2 436.9 212.3 C438.2 213.4 439.5 214.6 440.7 215.8 C442 217 443.2 218.2 444.4 219.4 C445.7 220.6 446.9 221.9 448.1 223.1 C449.3 224.3 450.6 225.5 451.8 226.7 C453.1 227.8 454.3 229 455.6 230.1 C456.9 231.1 458.2 232.2 459.6 233.1 C460.9 234.1 462.3 235 463.8 235.8 C465.2 236.6 466.7 237.4 468.2 238 C469.7 238.7 471.2 239.3 472.7 239.9 C474.3 240.4 475.9 240.9 477.5 241.3 C479.1 241.8 480.7 242.1 482.3 242.5 C484 242.8 485.6 243.1 487.3 243.3 C488.9 243.6 490.6 243.8 492.3 243.9 C494 244.1 495.7 244.2 497.4 244.3 C499.1 244.4 500.8 244.5 502.5 244.6 C504.2 244.6 505.9 244.7 507.6 244.7 C509.3 244.7 511 244.7 512.8 244.7 C514.5 244.7 516.2 244.6 517.9 244.6 C519.7 244.6 521.4 244.5 523.1 244.5 C524.8 244.5 526.6 244.5 528.3 244.4 C530 244.4 531.7 244.4 533.5 244.4 C535.2 244.4 536.9 244.4 538.6 244.4 C540.3 244.5 542 244.5 543.7 244.6 C545.4 244.7 547.1 244.8 548.8 244.9 C550.5 245.1 552.2 245.2 553.9 245.4 C555.6 245.6 557.3 245.9 558.9 246.1 C560.6 246.4 562.3 246.6 563.9 246.9 C565.6 247.2 567.3 247.5 568.9 247.8 C570.6 248.1 572.3 248.4 574 248.8 C575.6 249.1 577.2 249.4 579 249.7 C580.8 250 583.9 250.6 584.9 250.8 L609 250.8 L609 290 L223 290 L223 164.2Z" fill="#002eff"/>
<path d="M247.5 198.3 C248.4 198.7 251.3 199.9 253 200.6 C254.7 201.3 256.2 202 257.8 202.6 C259.4 203.2 261 203.8 262.6 204.4 C264.2 205 265.9 205.6 267.5 206.1 C269.1 206.6 270.7 207.1 272.4 207.6 C274 208.1 275.6 208.5 277.3 208.9 C278.9 209.4 280.6 209.8 282.2 210.1 C283.9 210.5 285.5 210.9 287.2 211.2 C288.8 211.6 290.5 211.9 292.1 212.2 C293.8 212.5 295.5 212.8 297.1 213.1 C298.8 213.3 300.5 213.6 302.2 213.8 C303.8 214.1 305.5 214.3 307.2 214.5 C308.9 214.7 310.6 214.9 312.2 215.1 C313.9 215.3 315.6 215.5 317.3 215.7 C319 215.8 320.7 216 322.4 216.1 C324.1 216.3 325.8 216.4 327.5 216.6 C329.2 216.7 330.9 216.9 332.6 217 C334.3 217.1 336 217.2 337.7 217.4 C339.4 217.5 341.1 217.6 342.8 217.7 C344.5 217.8 346.2 217.9 347.9 218.1 C349.6 218.2 351.3 218.3 353 218.4 C354.7 218.6 356.4 218.7 358.1 218.8 C359.8 219 361.5 219.1 363.2 219.3 C364.9 219.4 366.6 219.6 368.3 219.8 C370 219.9 371.7 220.1 373.4 220.3 C375.1 220.6 376.7 220.8 378.4 221 C380.1 221.3 381.8 221.5 383.4 221.8 C385.1 222.1 386.7 222.4 388.4 222.7 C390 223 391.7 223.4 393.3 223.7 C395 224.1 396.6 224.5 398.2 224.9 C399.8 225.4 401.5 225.8 403.1 226.3 C404.7 226.8 406.3 227.3 407.8 227.8 C409.4 228.4 411 229 412.6 229.6 C414.1 230.2 415.7 230.8 417.2 231.5 C418.8 232.2 420.3 233 421.8 233.7 C423.4 234.5 424.9 235.3 426.4 236.2 C427.9 237 429.3 237.9 430.8 238.8 C432.3 239.7 433.8 240.7 435.2 241.6 C436.7 242.5 438.2 243.4 439.6 244.3 C441.1 245.2 442.6 246.2 444.1 247 C445.5 247.9 447 248.7 448.5 249.5 C450 250.3 451.5 251 453.1 251.7 C454.6 252.3 456.1 252.9 457.7 253.4 C459.2 253.9 460.8 254.3 462.4 254.7 C464 255 465.6 255.2 467.2 255.4 C468.9 255.6 470.5 255.7 472.2 255.7 C473.9 255.7 475.5 255.7 477.2 255.6 C478.9 255.5 480.6 255.4 482.3 255.3 C484 255.1 485.7 254.9 487.4 254.7 C489.1 254.5 490.8 254.2 492.5 254 C494.2 253.7 495.9 253.5 497.6 253.2 C499.4 253 501.1 252.7 502.8 252.4 C504.5 252.2 506.2 251.9 507.9 251.6 C509.6 251.4 511.3 251.1 513 250.9 C514.7 250.6 516.4 250.4 518.1 250.2 C519.8 250 521.5 249.7 523.2 249.6 C524.9 249.4 526.6 249.2 528.3 249.1 C530 249 531.7 248.9 533.4 248.8 C535.1 248.7 536.8 248.7 538.5 248.7 C540.2 248.7 541.9 248.7 543.5 248.8 C545.2 248.9 546.9 249 548.6 249.1 C550.3 249.3 552 249.5 553.7 249.7 C555.4 249.8 557 250.1 558.7 250.3 C560.4 250.5 562.1 250.8 563.8 251 C565.5 251.3 567.2 251.5 568.9 251.8 C570.5 252 572.2 252.3 573.9 252.6 C575.6 252.8 577.2 253 579 253.3 C580.8 253.6 583.9 254 584.9 254.2 L609 254.2 L609 290 L223 290 L223 198.3Z" fill="#7700ff"/>
<path d="M247.1 225.8 C248.1 226 251.2 226.6 253 227 C254.8 227.4 256.3 227.7 258 228 C259.7 228.4 261.4 228.7 263 229 C264.7 229.3 266.4 229.6 268.1 229.9 C269.8 230.2 271.4 230.5 273.1 230.8 C274.8 231.1 276.5 231.3 278.2 231.6 C279.9 231.9 281.6 232.1 283.2 232.4 C284.9 232.7 286.6 232.9 288.3 233.2 C290 233.4 291.7 233.6 293.4 233.9 C295.1 234.1 296.8 234.4 298.5 234.6 C300.2 234.8 301.9 235.1 303.6 235.3 C305.3 235.5 307 235.7 308.7 236 C310.4 236.2 312.1 236.4 313.8 236.6 C315.4 236.9 317.1 237.1 318.8 237.3 C320.5 237.5 322.2 237.8 323.9 238 C325.6 238.2 327.3 238.4 329 238.7 C330.7 238.9 332.4 239.1 334.1 239.4 C335.8 239.6 337.5 239.8 339.1 240.1 C340.8 240.3 342.5 240.5 344.2 240.8 C345.9 241 347.6 241.3 349.3 241.6 C350.9 241.8 352.6 242.1 354.3 242.4 C356 242.7 357.6 243 359.3 243.3 C361 243.6 362.6 244 364.3 244.3 C366 244.7 367.6 245.1 369.3 245.5 C370.9 245.9 372.6 246.3 374.2 246.8 C375.8 247.2 377.5 247.7 379.1 248.2 C380.7 248.7 382.4 249.2 384 249.8 C385.6 250.3 387.2 250.8 388.9 251.4 C390.5 252 392.1 252.6 393.7 253.2 C395.3 253.7 396.9 254.3 398.6 254.9 C400.2 255.5 401.8 256.1 403.4 256.7 C405 257.3 406.7 257.9 408.3 258.5 C409.9 259.1 411.5 259.6 413.1 260.2 C414.8 260.7 416.4 261.3 418 261.8 C419.7 262.3 421.3 262.9 423 263.3 C424.6 263.8 426.2 264.3 427.9 264.7 C429.5 265.2 431.2 265.6 432.8 265.9 C434.5 266.3 436.1 266.7 437.8 267 C439.5 267.3 441.1 267.5 442.8 267.8 C444.4 268 446.1 268.2 447.8 268.3 C449.4 268.4 451.1 268.5 452.8 268.6 C454.4 268.6 456.1 268.6 457.8 268.5 C459.5 268.4 461.1 268.3 462.8 268.2 C464.5 268 466.1 267.8 467.8 267.5 C469.5 267.3 471.2 267 472.8 266.7 C474.5 266.4 476.2 266.1 477.9 265.7 C479.5 265.3 481.2 264.9 482.9 264.5 C484.6 264.1 486.2 263.7 487.9 263.3 C489.6 262.9 491.2 262.4 492.9 262 C494.6 261.5 496.2 261.1 497.9 260.6 C499.6 260.2 501.2 259.7 502.9 259.3 C504.6 258.9 506.2 258.5 507.9 258.1 C509.6 257.7 511.2 257.3 512.9 256.9 C514.6 256.5 516.2 256.2 517.9 255.9 C519.6 255.6 521.2 255.3 522.9 255.1 C524.6 254.8 526.3 254.6 528 254.4 C529.6 254.2 531.3 254.1 533 254 C534.7 253.8 536.4 253.8 538.1 253.7 C539.8 253.6 541.4 253.6 543.1 253.6 C544.8 253.5 546.5 253.5 548.2 253.6 C549.9 253.6 551.6 253.7 553.3 253.7 C555 253.8 556.7 253.9 558.4 254 C560.1 254.1 561.8 254.2 563.6 254.4 C565.3 254.5 567 254.7 568.7 254.9 C570.4 255.1 572.1 255.2 573.8 255.4 C575.6 255.7 577.1 255.9 579 256.1 C580.9 256.3 584 256.7 585 256.9 L609 256.9 L609 290 L223 290 L223 225.8Z" fill="#cc00ff"/>
<path d="M247 252 C248 252 251.1 252.3 253 252.5 C254.9 252.7 256.4 252.8 258.1 253 C259.9 253.2 261.6 253.4 263.3 253.7 C265 253.9 266.6 254.2 268.3 254.5 C270 254.9 271.7 255.2 273.4 255.6 C275.1 255.9 276.7 256.3 278.4 256.7 C280.1 257.1 281.7 257.5 283.4 257.9 C285.1 258.3 286.8 258.7 288.4 259.1 C290.1 259.5 291.8 259.9 293.4 260.3 C295.1 260.7 296.8 261.1 298.5 261.5 C300.1 261.9 301.8 262.3 303.5 262.7 C305.2 263 306.9 263.4 308.6 263.8 C310.2 264.1 311.9 264.5 313.6 264.8 C315.3 265.2 317 265.5 318.7 265.8 C320.4 266.1 322.1 266.5 323.8 266.8 C325.5 267.1 327.2 267.4 328.9 267.7 C330.6 268 332.3 268.3 334 268.5 C335.7 268.8 337.4 269.1 339.1 269.4 C340.8 269.6 342.5 269.9 344.2 270.1 C345.9 270.4 347.6 270.6 349.3 270.8 C351 271 352.7 271.3 354.4 271.5 C356.1 271.7 357.8 271.9 359.5 272.1 C361.2 272.3 363 272.4 364.7 272.6 C366.4 272.8 368.1 272.9 369.8 273.1 C371.5 273.2 373.2 273.4 374.9 273.5 C376.7 273.7 378.4 273.8 380.1 273.9 C381.8 274 383.5 274.1 385.2 274.2 C386.9 274.3 388.7 274.4 390.4 274.5 C392.1 274.6 393.8 274.6 395.5 274.7 C397.2 274.7 399 274.8 400.7 274.8 C402.4 274.9 404.1 274.9 405.8 274.9 C407.5 274.9 409.2 274.9 411 274.9 C412.7 274.9 414.4 274.9 416.1 274.9 C417.8 274.9 419.5 274.8 421.2 274.8 C423 274.7 424.7 274.7 426.4 274.6 C428.1 274.6 429.8 274.5 431.5 274.4 C433.2 274.3 434.9 274.2 436.6 274.1 C438.3 274 440.1 273.9 441.8 273.7 C443.5 273.6 445.2 273.5 446.9 273.3 C448.6 273.1 450.3 273 452 272.8 C453.7 272.6 455.4 272.4 457.1 272.2 C458.8 272 460.5 271.8 462.2 271.6 C463.9 271.4 465.6 271.2 467.3 270.9 C469 270.7 470.7 270.4 472.4 270.1 C474.1 269.9 475.7 269.6 477.4 269.3 C479.1 269 480.8 268.7 482.5 268.4 C484.2 268.1 485.9 267.7 487.5 267.4 C489.2 267 490.9 266.7 492.6 266.3 C494.3 265.9 495.9 265.6 497.6 265.2 C499.3 264.8 501 264.4 502.6 264 C504.3 263.5 506 263.1 507.6 262.7 C509.3 262.2 511 261.8 512.6 261.3 C514.3 260.9 516 260.5 517.6 260 C519.3 259.6 520.9 259.2 522.6 258.8 C524.3 258.5 526 258.1 527.6 257.8 C529.3 257.5 531 257.2 532.7 257 C534.4 256.7 536 256.5 537.7 256.4 C539.4 256.3 541.1 256.2 542.9 256.2 C544.6 256.2 546.3 256.3 548 256.4 C549.7 256.5 551.4 256.6 553.2 256.8 C554.9 256.9 556.6 257.1 558.4 257.3 C560.1 257.5 561.8 257.7 563.5 257.8 C565.3 258 567 258.2 568.7 258.3 C570.4 258.5 572.2 258.6 573.9 258.7 C575.6 258.8 577.1 258.8 579 258.8 C580.9 258.8 584 258.9 585 258.9 L609 258.9 L609 290 L223 290 L223 252Z" fill="#ff00ff"/>
<path d="M579 133 C578.8 134.2 578 137.8 577.8 140 C577.6 142.2 577.6 144 577.6 146 C577.6 148 577.7 150 577.9 152 C578.1 154 578.8 157 579 158Z" fill="#ff0000"/>
<g fill="none" stroke="#000" stroke-opacity="0.4" stroke-width="0.4">
<path d="M486.6 59.5 C487.5 59.9 490.4 61.2 492 62 C493.6 62.8 494.9 63.4 496.4 64.1 C498 64.8 499.6 65.4 501.2 66.1 C502.8 66.8 504.5 67.6 506.1 68.3 C507.8 69.1 509.4 69.8 511.1 70.6 C512.7 71.4 514.4 72.3 516 73.2 C517.5 74.1 519.1 75 520.6 76 C522.1 77 523.5 78.1 524.9 79.2 C526.2 80.3 527.5 81.5 528.7 82.7 C529.9 84 531 85.3 532 86.6 C533 88 534 89.4 534.7 90.8 C535.5 92.3 536.2 93.8 536.7 95.4 C537.3 97 537.8 98.6 538.2 100.3 C538.6 101.9 538.9 103.6 539.1 105.4 C539.4 107.1 539.6 108.9 539.8 110.6 C540 112.4 540.1 114.2 540.3 116 C540.4 117.8 540.5 119.6 540.7 121.3 C540.9 123.1 541 124.9 541.3 126.7 C541.5 128.4 541.7 130.2 542.1 131.9 C542.4 133.6 542.7 135.3 543.2 137 C543.6 138.7 544.1 140.4 544.6 142 C545.1 143.6 545.7 145.2 546.3 146.8 C546.9 148.4 547.6 150 548.3 151.6 C549 153.1 549.7 154.7 550.5 156.2 C551.2 157.8 552 159.3 552.9 160.8 C553.7 162.3 554.6 163.8 555.4 165.3 C556.3 166.8 557.2 168.2 558.1 169.7 C559.1 171.2 560 172.6 561 174.1 C561.9 175.5 562.9 177 563.9 178.4 C564.9 179.9 565.9 181.3 566.9 182.7 C567.9 184.2 568.9 185.6 569.9 187 C570.9 188.5 572 189.9 573 191.3 C574 192.8 575 194.2 576 195.7 C577 197.1 577.9 198.5 579 200 C580.1 201.5 581.8 204.1 582.4 204.9"/>
<path d="M259.3 56.7 C259.7 57.6 261.1 60.3 262 62 C262.9 63.7 263.6 65.2 264.4 66.7 C265.3 68.2 266.3 69.7 267.3 71 C268.3 72.3 269.4 73.6 270.6 74.8 C271.7 76 272.9 77.1 274.2 78.2 C275.4 79.3 276.8 80.3 278.1 81.3 C279.5 82.2 280.9 83.1 282.3 84 C283.7 84.9 285.2 85.7 286.7 86.4 C288.2 87.2 289.7 87.9 291.3 88.6 C292.8 89.3 294.4 90 296 90.7 C297.6 91.3 299.2 91.9 300.8 92.5 C302.4 93.1 304.1 93.7 305.7 94.2 C307.3 94.8 308.9 95.3 310.6 95.9 C312.2 96.4 313.8 97 315.4 97.5 C317 98 318.6 98.6 320.2 99.1 C321.8 99.7 323.4 100.3 324.9 100.9 C326.5 101.4 328 102.1 329.6 102.7 C331.1 103.4 332.6 104.1 334.1 104.8 C335.7 105.5 337.1 106.3 338.6 107.2 C340.1 108 341.6 108.9 343 109.8 C344.5 110.7 345.9 111.7 347.4 112.6 C348.8 113.6 350.3 114.6 351.7 115.5 C353.2 116.4 354.7 117.4 356.1 118.2 C357.6 119.1 359.1 119.9 360.6 120.7 C362.1 121.5 363.6 122.2 365.2 122.8 C366.7 123.4 368.3 124 369.9 124.5 C371.5 125 373.1 125.4 374.7 125.8 C376.3 126.2 378 126.5 379.6 126.8 C381.3 127.1 382.9 127.4 384.6 127.7 C386.3 127.9 387.9 128.1 389.6 128.3 C391.3 128.5 393 128.7 394.7 128.9 C396.4 129.1 398.1 129.3 399.7 129.5 C401.4 129.7 403.1 129.8 404.8 130.1 C406.5 130.3 408.2 130.5 409.8 130.8 C411.5 131 413.2 131.3 414.8 131.7 C416.5 132 418.1 132.3 419.7 132.7 C421.4 133.1 423 133.6 424.6 134 C426.2 134.5 427.8 134.9 429.4 135.5 C431 136 432.6 136.5 434.2 137.1 C435.8 137.6 437.4 138.2 439 138.8 C440.6 139.4 442.2 140 443.7 140.7 C445.3 141.3 446.9 142 448.5 142.7 C450 143.3 451.6 144 453.2 144.8 C454.7 145.5 456.3 146.2 457.9 146.9 C459.4 147.7 461 148.4 462.5 149.2 C464 150 465.5 150.9 466.8 151.8 C468.1 152.8 469.3 153.8 470.3 154.9 C471.4 156.1 472.2 157.4 472.9 158.8 C473.7 160.2 474.2 161.7 474.8 163.3 C475.4 164.8 475.9 166.4 476.5 168 C477.1 169.5 477.7 171.1 478.3 172.7 C479 174.2 479.7 175.8 480.5 177.3 C481.3 178.8 482.2 180.2 483.1 181.7 C484 183.1 485 184.5 486 185.8 C487 187.2 488.1 188.5 489.2 189.8 C490.4 191.1 491.5 192.3 492.8 193.5 C494 194.7 495.2 195.9 496.5 197.1 C497.8 198.2 499.1 199.3 500.4 200.4 C501.8 201.4 503.1 202.5 504.5 203.5 C505.9 204.5 507.3 205.4 508.7 206.3 C510.1 207.3 511.5 208.2 513 209 C514.4 209.9 515.9 210.7 517.3 211.6 C518.8 212.4 520.3 213.1 521.8 213.9 C523.3 214.7 524.8 215.4 526.3 216.1 C527.9 216.8 529.4 217.5 530.9 218.2 C532.5 218.8 534 219.5 535.6 220.1 C537.2 220.8 538.7 221.4 540.3 222 C541.9 222.6 543.5 223.1 545.1 223.7 C546.7 224.3 548.3 224.8 549.9 225.4 C551.5 225.9 553.1 226.4 554.7 227 C556.3 227.5 558 228 559.6 228.5 C561.2 229 562.8 229.5 564.4 230 C566.1 230.5 567.7 231 569.3 231.5 C570.9 232 572.5 232.5 574.2 233 C575.8 233.5 577.2 234 579 234.5 C580.8 235 583.8 236 584.7 236.3"/>
<path d="M247.5 198.3 C248.4 198.7 251.3 199.9 253 200.6 C254.7 201.3 256.2 202 257.8 202.6 C259.4 203.2 261 203.8 262.6 204.4 C264.2 205 265.9 205.6 267.5 206.1 C269.1 206.6 270.7 207.1 272.4 207.6 C274 208.1 275.6 208.5 277.3 208.9 C278.9 209.4 280.6 209.8 282.2 210.1 C283.9 210.5 285.5 210.9 287.2 211.2 C288.8 211.6 290.5 211.9 292.1 212.2 C293.8 212.5 295.5 212.8 297.1 213.1 C298.8 213.3 300.5 213.6 302.2 213.8 C303.8 214.1 305.5 214.3 307.2 214.5 C308.9 214.7 310.6 214.9 312.2 215.1 C313.9 215.3 315.6 215.5 317.3 215.7 C319 215.8 320.7 216 322.4 216.1 C324.1 216.3 325.8 216.4 327.5 216.6 C329.2 216.7 330.9 216.9 332.6 217 C334.3 217.1 336 217.2 337.7 217.4 C339.4 217.5 341.1 217.6 342.8 217.7 C344.5 217.8 346.2 217.9 347.9 218.1 C349.6 218.2 351.3 218.3 353 218.4 C354.7 218.6 356.4 218.7 358.1 218.8 C359.8 219 361.5 219.1 363.2 219.3 C364.9 219.4 366.6 219.6 368.3 219.8 C370 219.9 371.7 220.1 373.4 220.3 C375.1 220.6 376.7 220.8 378.4 221 C380.1 221.3 381.8 221.5 383.4 221.8 C385.1 222.1 386.7 222.4 388.4 222.7 C390 223 391.7 223.4 393.3 223.7 C395 224.1 396.6 224.5 398.2 224.9 C399.8 225.4 401.5 225.8 403.1 226.3 C404.7 226.8 406.3 227.3 407.8 227.8 C409.4 228.4 411 229 412.6 229.6 C414.1 230.2 415.7 230.8 417.2 231.5 C418.8 232.2 420.3 233 421.8 233.7 C423.4 234.5 424.9 235.3 426.4 236.2 C427.9 237 429.3 237.9 430.8 238.8 C432.3 239.7 433.8 240.7 435.2 241.6 C436.7 242.5 438.2 243.4 439.6 244.3 C441.1 245.2 442.6 246.2 444.1 247 C445.5 247.9 447 248.7 448.5 249.5 C450 250.3 451.5 251 453.1 251.7 C454.6 252.3 456.1 252.9 457.7 253.4 C459.2 253.9 460.8 254.3 462.4 254.7 C464 255 465.6 255.2 467.2 255.4 C468.9 255.6 470.5 255.7 472.2 255.7 C473.9 255.7 475.5 255.7 477.2 255.6 C478.9 255.5 480.6 255.4 482.3 255.3 C484 255.1 485.7 254.9 487.4 254.7 C489.1 254.5 490.8 254.2 492.5 254 C494.2 253.7 495.9 253.5 497.6 253.2 C499.4 253 501.1 252.7 502.8 252.4 C504.5 252.2 506.2 251.9 507.9 251.6 C509.6 251.4 511.3 251.1 513 250.9 C514.7 250.6 516.4 250.4 518.1 250.2 C519.8 250 521.5 249.7 523.2 249.6 C524.9 249.4 526.6 249.2 528.3 249.1 C530 249 531.7 248.9 533.4 248.8 C535.1 248.7 536.8 248.7 538.5 248.7 C540.2 248.7 541.9 248.7 543.5 248.8 C545.2 248.9 546.9 249 548.6 249.1 C550.3 249.3 552 249.5 553.7 249.7 C555.4 249.8 557 250.1 558.7 250.3 C560.4 250.5 562.1 250.8 563.8 251 C565.5 251.3 567.2 251.5 568.9 251.8 C570.5 252 572.2 252.3 573.9 252.6 C575.6 252.8 577.2 253 579 253.3 C580.8 253.6 583.9 254 584.9 254.2"/>
</g>
</g>
<g fill="none" stroke="#c9c9c9" stroke-width="1.3" stroke-linejoin="round" stroke-linecap="round">
<path d="M17.6 164.4 L25 165.6 L49 166 L93.6 166"/>
<path d="M86 235 L94 237 L102 236 L110 239 L116 241.4 L122.4 239 L126 249 L136 254 L145 258"/>
<path d="M130 252 L145 257.6"/>
<path d="M152 334 L170 315 L192 296 L207 277 L210 275 L235 273.6 L274 270"/>
<path d="M151.6 334.4 L190 335.6 L214 367 L215 399"/>
<path d="M17.6 258 L27.6 258.6"/>
<path d="M17.6 362.4 C19.3 362.9 22.2 364.3 27.6 365.2 C33 366.1 43.6 367.2 50 368 C56.4 368.8 61 369.1 66 370 C71 370.9 76 373 80 373.6 C84 374.2 86.7 374 90 373.6 C93.3 373.2 97 372.4 100 371 C103 369.6 105.3 366.4 108 365 C110.7 363.6 113.2 362.6 116 362.4 C118.8 362.2 122.3 362.3 125 363.6 C127.7 364.9 130.5 368.1 132 370 C133.5 371.9 133 373.7 134 375 C135 376.3 136.7 377.5 138 378 C139.3 378.5 140.7 377.3 142 378 C143.3 378.7 144.3 380.8 146 382 C147.7 383.2 150.3 384.2 152 385 C153.7 385.8 155.2 385.7 156 387 C156.8 388.3 156 391.2 157 393 C158 394.8 160 397 162 398 C164 399 166.8 399.2 169 399 C171.2 398.8 173 398.2 175 397 C177 395.8 179.2 392.3 181 392 C182.8 391.7 184.5 394 186 395 C187.5 396 188.3 397.3 190 398 C191.7 398.7 194.2 399.3 196 399 C197.8 398.7 199.5 396.7 201 396 C202.5 395.3 203.7 394.7 205 395 C206.3 395.3 207.3 397.3 209 398 C210.7 398.7 214 398.8 215 399"/>
<path d="M321 322.6 L343.6 322 L344 316 L351 315 L353 310 L356 308.6 L358 310 L358.4 315"/>
<path d="M578.7 227.6 L591.6 223.3 L607.5 219 L636.4 217 L649.4 210.3 L666.7 219.8 L710 224.7 L714.3 233.4"/>
<path d="M599.4 336.6 L630 333 L656 330.4 L676 327.4 L690 326.4 L708 327"/>
</g>
<defs><clipPath id="co"><path clip-rule="evenodd" d="M0 0H800V565H0ZM253 62V260H579V62Z"/></clipPath></defs>
<g clip-path="url(#co)">
<g fill="none" stroke="#c6c6c6" stroke-width="1.2" stroke-linejoin="round" stroke-linecap="round">
<path d="M79 64.6 L100 64.4"/><path d="M86.4 64.6 L86.4 70 L94 80 L94.6 89 L99.6 89 L99.6 101 L102 103.6 L106 106 L106.6 120 L106 125 L102 129 L100 134 L99.6 147 L91 147.4 L90.4 153.6 L62 154 L57 155 L54.4 158 L53.6 162 L50 164 L49 166"/><path d="M94.6 89 L160 88 L170 88"/><path d="M201.6 56.4 L290 55.2 L440 52.4 L545 48.6"/><path d="M93.6 166 L94 174.4 L106 174.4 L106.6 192 L109.6 193 L109.6 198 L113 199 L113 206 L109.6 207 L109.6 209 L106 210 L106 215 L100 216 L99.6 219 L95 220 L93.6 224 L93.6 228 L91 232 L86 235 L81 240 L76 248 L70 252 L62 256 L52 253 L47 250 L43 245 L38 242 L33 245 L26.4 246.6 L22 250 L17.6 252"/><path d="M113 203 L122 196 L124 190 L129 186 L133 190 L136 188 L140 189 L142 187 L141.6 181 L144 179.6 L150 182.4 L160 179 L162 178 L167 180 L173 183 L196 182.4"/><path d="M405 284 L392 285 L382 284 L376 283 L372 280.6 L366 281 L360 279"/><path d="M358.4 315 L362 319 L366 325 L370 329 L376 332 L382 337 L386 343 L392 346 L396 351 L400 357 L406 363 L410 366 L418 372 L422 378 L428 384 L434 392 L437 400 L436 408 L433 414 L432 420 L432.4 440 L432.4 470"/>
</g>
<g fill="none" stroke="#000" stroke-opacity="0.32" stroke-width="0.85" stroke-linejoin="round" stroke-linecap="round">
<path d="M95 20 L96 28 L95.6 30 L98 50 L99.6 62 L100 64.4"/><path d="M252.4 145.6 L257.5 135 L262.5 128"/><path d="M183 161 L213 161 L214 163 L218 163.6 L220 161.6 L231 160.6 L232 158 L243 157 L244 152 L246 151 L247 146 L252.4 145.6"/><path d="M192 161.6 L198 168 L203 174 L206 180 L206 186 L203 189 L207 193 L207 199 L210 204 L213 208 L214 212 L220 214 L228 214 L233 216 L234 222 L232 226 L235 229 L236 231 L235 237 L236 242.6 L250 243 L252.4 245 L253 250"/><path d="M231 160.6 L236 166 L242 174 L248 181 L252.4 183 L258 190 L263 196 L278 197 L290 197"/><path d="M395.6 53.2 L396 100 L397 150 L398 158 L402 168 L408 176 L413 184 L414.4 192 L413 200 L410 208 L406 214 L400 218 L392 219 L387 217 L384 214 L381 216 L380 220 L385 224 L385 230 L383 238 L380 244 L381 250 L378 256 L380 263 L382 271 L382 284"/><path d="M271 117 L295 115.6 L346 113"/><path d="M265 127.5 L271 117"/><path d="M335 127.4 L396 126.4"/><path d="M434.4 52.4 L435 70 L440 76 L446 88 L450 100 L453 112 L455 130 L455.6 153 L455.6 170 L457 184 L464 196 L470 208 L473 220"/><path d="M453 112 L480 117 L500 120 L527 120"/><path d="M317 193 L312 210 L307 226 L304 234 L303 244 L302 254"/><path d="M280 258 L302 251 L330 244 L340 238 L354 234 L386 227"/><path d="M304 249 L306 247 L320 248 L325 246 L329 248 L328 254 L330 263 L331 267 L337 269 L338 277 L342 278 L342.4 287 L338 289 L334 299 L328 311 L320 323 L312 335 L306 343"/><path d="M414.4 202 L428 203 L432 200 L442 198 L450 201 L460 206 L470 210"/><path d="M473 220 L462 224 L454 226 L450 228 L442 230 L438 236 L430 240 L432 244 L426 250 L420 254 L410 259 L403 261"/><path d="M451 228 L451 260 L452 271 L454 279 L460 285 L466 292 L473 297 L470 307 L466 317 L463 324.6"/><path d="M473 220 L480 226 L481.6 228 L481 260 L479.6 267 L477.6 272 L479 277 L484 279 L490 276 L493 272 L497 276 L502 281 L505 279 L509 278.6 L514 280 L518 283 L520 287 L523 293 L526 298 L528 302 L534 301 L539 303 L542 307 L546 308.6 L552 308 L558 309 L562 314 L568 319 L574 324 L582 328 L592 330 L599.4 336.6"/><path d="M481.6 227 L496 226 L506 222 L514 218 L522 217 L530 219 L538 223 L544 222 L548 220 L552 223 L558 220 L564 224 L570 226 L579 228"/><path d="M149 250 L156 250 L158 253 L161 251 L167 254 L172 256 L177 249 L182 244 L184 241 L190 239.4 L198 241 L201 243 L206 249 L210 252 L211 257 L228 257.4 L232 253 L252.4 252 L262.5 252 L272.5 252.5 L275.6 256 L278.8 255 L280 257.5"/><path d="M235 273.6 L239 279 L246 285 L250 293 L253 301 L251.6 309 L256 312 L270 314 L280 315 L286 316 L292 319 L300 321 L303.6 323"/><path d="M279 256 L274 263 L274 270 L278 277 L280 283 L284 287 L286 293 L292 297 L302 300 L304 307 L305 313 L303 319 L304 327 L305 337 L306 343"/><path d="M27.6 258.6 L27.6 365"/><path d="M151.6 334.4 L156 330 L160 325"/><path d="M403 255 L402.7 257.4 L403.2 259.8 L402.7 262.2 L403.1 264.6 L403 267 L406 269 L405.9 271.7 L406.5 274.3 L406.3 277 L406.8 279.7 L406.6 282.3 L407 285 L408.7 287.4 L410 290 L411.9 291.2 L414.1 291.8 L416 293 L416.3 295.5 L417.3 297.9 L417.3 300.5 L418 303 L420.7 304.2 L423.2 305.9 L426 307 L428.8 308.1 L431.3 309.8 L434 311 L435.5 312.9 L436.6 315.1 L438 317 L439.2 319.5 L439.8 322.2 L441 324.6 L443.8 324.3 L446.5 324.9 L449.2 324.4 L452 324.7 L454.8 324.4 L457.5 324.8 L460.2 324.3 L463 324.6 L465.3 325 L467.7 324.7 L470 325 L471.9 326.2 L474 327 L474.5 329.6 L474.5 332.4 L475 335 L475.5 337.6 L475.5 340.4 L476 343 L475.7 345.5 L475 348 L472.9 349.4 L471 351 L472.2 352.9 L473 355 L474.8 356.7 L477 358 L477.7 361 L478 364 L478.8 366.1 L480 368 L482.1 368.8 L483.9 370.2 L486 371 L488.7 371.2 L491.3 371.9 L494 372 L496.6 373.4 L499 375 L499.4 377.4 L500.5 379.6 L501 382 L500.4 384.6 L500.6 387.4 L500 390 L500 392.7 L500.8 395.3 L501 398 L502.5 399.9 L504.5 401.2 L506 403 L505.7 405.5 L506 408 L504.5 409.8 L502.5 411.2 L501 413 L499.9 415.5 L498.1 417.5 L497 420 L496.2 423.1 L495 426 L492.9 427.9 L491 430 L491.2 432.5 L490.7 435 L491.2 437.5 L491 440 L491.1 442.7 L491.9 445.3 L492 448"/><path d="M504 262 L510 261 L518 259 L524 259.6 L528 261"/>
</g>
<g fill="none" stroke="#000" stroke-opacity="0.44" stroke-width="0.6" stroke-linejoin="round" stroke-linecap="round">
<path d="M17.6 79.2 L29.6 79.2 L36 79.2 L39 78 L44 80 L48 78 L50.4 74 L50.4 69 L54 66 L60 62.4 L64 59 L68 57.2 L72 59.6 L76 62.4 L79 64.6"/><path d="M29.6 79.2 L29.1 81.8 L30.2 84.3 L29.3 86.9 L30.2 89.4 L29.3 92 L30.1 94.5 L29.3 97 L30.2 99.6 L29.3 102.2 L30.1 104.7 L29.1 107.2 L30.2 109.8 L29.2 112.3 L30.2 114.9 L29 117.5 L29.6 120 L29.9 122.5 L29.2 125 L30.4 127.5 L29.2 130 L30.2 132.5 L29.5 135 L30.5 137.5 L29.6 140 L30.5 142.5 L30 145 L32.4 148 L30.7 150.8 L30 154 L28.2 155.8 L26 157 L25.1 159.4 L25 162 L24.9 164.1 L24 166 L25.1 168.7 L27 171 L28.5 173.2 L28.7 175.9 L30.4 178 L30.3 181.1 L29 184 L26.8 185.2 L25 187 L25.6 189.3 L24.7 191.7 L25 194 L26 197 L25.6 199.6 L24.6 202 L24.4 204.7 L25.8 207.3 L25.6 210 L25.2 212.7 L26.5 215.3 L26 218 L27.6 220.1 L30.2 221.1 L32 223 L30.5 225.3 L30 228 L27 230 L27.1 232.6 L26 235 L25.2 238 L25 241 L26.1 243.9 L26.4 247"/><path d="M194 20 L190 23 L188 28 L190 34 L188 38 L190 43 L187 48 L183 53 L178 57 L173 62 L172.4 70 L173 78 L173 84 L170 86 L171 89 L174 92 L173 96 L177 100 L181 108 L184 116 L186 120 L184 126 L185 132 L183 140 L183 148 L185 154 L187 158 L183 160 L183.6 164 L187 168 L189 173 L193 178 L196 182.4"/><path d="M183 53 L188 49 L194 47 L199 48 L201.6 52 L200 58 L198 62"/><path d="M183 53 L188 54.4 L194 53 L197 57 L198 62"/><path d="M210 20 L207 25 L204.4 30 L207 35 L212 39 L216 43 L216.4 47 L213 52 L206 55 L201.6 57 L199 60 L198 62.4 L199 66 L201 71 L199 76 L198.4 82 L199 87 L204 89 L212 89 L216 90 L217.6 87 L217 83 L214 80 L209 79 L206 77 L207 74 L212 73.6 L218 74.4 L222.4 78 L225 83 L224 90 L222 96 L219 101 L214 103 L211 106 L211 109 L214 111 L219 112 L226 111 L234 109 L242 107 L248 106 L252.4 108 L255 121 L257.5 126 L261 128"/><path d="M285 55.2 L284 57.5 L284 60 L282 63 L282.1 65.6 L280.3 67.9 L281.2 70.6 L279.3 72.9 L280 75.6 L279 78 L277.6 80.5 L278.2 83.5 L277 86 L275.9 88.6 L276 91.4 L275 94 L273.2 96.4 L272.7 99.5 L271 102 L269.6 103.8 L269 106 L268.4 108.4 L266.1 110 L265.6 112.5 L264.6 115.3 L262.2 117.3 L261 120 L262.3 121.9 L262.6 124.2 L264 126 L262.8 128.5 L260.1 129.9 L259 132.5 L260.8 134.3 L260.7 137.2 L262.5 139 L263.8 141.3 L264 144 L264.6 146.3 L266.7 147.8 L267.5 150 L269.9 150.8 L272.6 150.3 L275 151 L274.7 153.1 L275.6 155 L273.5 155.9 L271.1 155.1 L269 156 L268 159 L269.9 158 L272 158 L274.2 157.5 L276 156 L278.1 155.3 L280.4 156 L282.5 155 L283.8 157.3 L284 160 L283.3 162.4 L284.7 164.8 L283.6 167.2 L284.4 169.6 L284 172 L282.6 174.3 L282.7 177.3 L280.4 179.2 L280 182 L279.1 184.3 L276.8 185.6 L276 188 L277.4 189.8 L278 192 L280.5 192.7 L283 191.7 L285.5 192.7 L288 192 L290.9 192.8 L293 195 L295.2 196.1 L297.8 195.8 L300 197 L302.5 196.8 L304.8 195.4 L307.4 195.7 L309.6 194.3 L312.2 194.5 L314.5 193.1 L317 193 L320 192 L322.7 191.7 L325.1 190.3 L327.9 190.7 L330.3 189.2 L333 189"/><path d="M348 54.4 L346.2 56.7 L345.7 59.7 L344 62 L343.4 64.6 L343.9 67.4 L343 70 L343.4 72.6 L344.9 74.9 L344.8 77.6 L346 80 L346 83.1 L345 86 L345.3 89.2 L347 92 L346.5 95.2 L345 98 L345 100.8 L347 103.2 L347 106 L346.3 108.3 L346.6 110.7 L346 113 L344.7 115.4 L344 118 L343 120.4 L340.6 121.7 L340 124.4 L338 126 L335.5 127.5 L334.4 130.4 L331.6 131.6 L330 134 L328.4 135.7 L326.3 136.8 L325.2 139 L323 140 L321.9 142.9 L322 146 L323.1 147.9 L323 150 L322.1 152.6 L322.9 155.4 L322 158 L321.2 160.4 L322.2 163.1 L320.9 165.5 L321 168 L322.4 169.8 L322.6 172.2 L324 174 L325.9 175.6 L326.1 178.4 L328 180 L330 181.8 L331.1 184.2 L333 186 L335.5 187 L337.5 189 L340 190 L342.9 190.8 L345.1 193.1 L348 194 L349.8 195.7 L350.3 198.2 L352 200 L354.3 201.3 L355.8 203.6 L358 205 L360.4 207.2 L362 210 L363.6 212.4 L366.5 213.5 L368 216 L369.5 218.9 L372 221 L374.3 222.1 L376 224 L378.1 223.3 L380 222"/><path d="M545 48.6 L546.4 52 L545.4 54.4 L545.6 57 L544.2 59.8 L542 62 L542.1 64.1 L543 66 L542.2 68.5 L540 70 L539.1 72.4 L539.6 75 L539 77.8 L537 80 L536.1 82.3 L537.2 84.7 L536.4 87 L534.1 88.5 L533 91 L532.1 93.8 L530 96 L528.7 98.9 L529 102 L530.2 103.8 L530 106 L528.2 108.7 L528 112 L528.3 114.7 L526.9 117.3 L527 120 L528.8 121.7 L530 124 L530.3 126.3 L532 128 L532.4 130 L532 132 L532.4 134.3 L534.6 135.7 L535 138 L535.7 140.2 L537 142 L538.7 143.6 L539 146 L540.7 148.3 L543 150 L545.4 151.4 L545.9 154.5 L548.6 155.7 L550 158 L551.6 160 L554.4 160 L556 162 L556.3 164.8 L558 167.2 L558 170 L558.6 173.1 L560 176 L562.2 178.1 L562.4 181.4 L565.3 183 L566 186 L566.6 189.1 L568 192 L567.5 195.2 L566 198 L566.8 200.4 L569.2 201.6 L570 204 L570.6 206.2 L572.8 207.6 L573 210 L574 212.5 L576.7 213.7 L578 216 L579 219 L581.9 217.9 L584.4 216 L587.3 217.5 L589.4 220.1 L590.2 223.3"/><path d="M570 226 L567.8 227.8 L566 230 L564.2 231.6 L561.7 232.3 L560 234 L559.8 237.1 L559 240 L556.3 241.7 L554 244 L552.8 246.2 L551 248 L552.3 250.2 L554 252 L556 251.6 L558 252"/><path d="M502 281 L500.8 282.9 L500.3 285.2 L499 287 L497.1 288.8 L495.8 291.1 L494 293 L492.2 294.8 L491 297 L491.6 300 L491.6 303 L490.6 305.5 L490 308 L491.7 310.1 L492.5 312.8 L494 315 L495.7 317.4 L497 320 L498.3 322.6 L500 325 L501.3 326.9 L501.8 329.1 L503 331 L504.3 333.9 L505 337 L507 339 L507.2 342.1 L508 345 L508.5 347.5 L508.2 350 L509 352.5 L509 355 L508.8 357.6 L509.4 360.2 L509.1 362.8 L509.7 365.4 L509.6 368 L509.6 370.5 L510 373 L512.2 374.2 L514 376 L514.7 378.6 L516.2 380.9 L516.7 383.6 L518 386 L519 388.4 L519.3 391.1 L520.4 393.4 L521 396 L521.5 398.6 L522.7 401 L523 403.6 L524 406 L524.5 408.8 L524.2 411.6 L525 414.4 L524.6 417.2 L525 420 L525.3 422.5 L524.9 425 L525.5 427.5 L525.1 430 L525.8 432.5 L525.6 435"/><path d="M506 260 L502 265 L501.6 270 L505 274 L514 275 L519 278 L521.6 282 L521 287"/><path d="M141 189 L142.9 190.3 L145.2 190.6 L147 192 L145.9 194.6 L145.9 197.4 L145 200 L145.5 203.2 L147 206 L146.4 208.2 L144.8 209.9 L144 212 L146.4 214.2 L148 217 L146.3 219.4 L145 222 L147.2 223.8 L149 226 L150.8 227.3 L153.2 227.7 L155 229 L155.1 231.5 L155.6 234 L154.8 236.5 L152.8 238.5 L152 241 L151.6 243.4 L150.1 245.4 L150.1 247.9 L149 250 L147.6 252.2 L147.2 254.8 L146 257 L144.7 259.1 L144.3 261.5 L142.8 263.5 L142.5 266 L141 268 L140.8 270.5 L141.6 273 L141.1 275.5 L142 278 L141.6 280.5 L142 283 L142.6 285.4 L142.5 287.9 L143.4 290.2 L143.2 292.7 L144 295 L144.6 297.8 L144.2 300.6 L145.1 303.4 L144.6 306.2 L145 309 L145.1 311.7 L144.2 314.3 L144.8 317 L144 319.6 L144.5 322.4 L144 325 L143.7 327.6 L144.4 330.2 L143.6 332.8 L144.4 335.4 L144 338 L142.6 339.9 L141.9 342.2 L140 343.8 L139 346 L137.2 348.2 L134.8 349.8 L133 352 L133.1 354.7 L131.9 357.3 L132 360 L132.4 362.5 L131.8 365 L132.6 367.5 L132.4 370"/><path d="M306 343 L302.9 343.1 L300 344 L297.1 344.9 L294 345 L291.9 345.8 L290.2 347.4 L288 348 L285.9 348.3 L284 349 L283 351.2 L281.2 352.9 L280 355 L279.9 357.1 L279 359 L275.9 359.8 L273 361 L273.7 364 L273.3 367 L274 370 L273.9 372.6 L273 375 L274.3 377.2 L276 379 L278.5 379.6 L280.5 381.4 L283 382 L283.7 384.5 L284 387 L282.7 389.4 L282 392 L280.6 394 L278.4 395.1 L277 397 L274 399 L273.8 402 L273 405 L270.8 406.3 L269 408 L266.6 408.1 L264.4 407.1 L262 407 L259.8 406.3 L258 405 L257.6 407.4 L258.2 409.9 L257.7 412.3 L258.3 414.7 L257.7 417.1 L258.3 419.6 L258 422"/><path d="M215 399 C216.8 399.3 222.2 399.8 226 401 C229.8 402.2 234.3 404.5 238 406 C241.7 407.5 245.3 408.3 248 410 C250.7 411.7 252.2 414 254 416 C255.8 418 257 420 259 422 C261 424 263.5 426.3 266 428 C268.5 429.7 271 430.8 274 432 C277 433.2 281.7 434.3 284 435 C286.3 435.7 286 435.5 288 436 C290 436.5 294 437 296 438 C298 439 298.3 441 300 442 C301.7 443 303.7 443.5 306 444 C308.3 444.5 311 444.5 314 445 C317 445.5 321.3 446.5 324 447 C326.7 447.5 329.8 447.5 330 448 C330.2 448.5 326.5 448.8 325 450 C323.5 451.2 321.7 453 321 455 C320.3 457 320.3 460 321 462 C321.7 464 323.2 465.6 325 467 C326.8 468.4 328.5 469.6 332 470.4 C335.5 471.2 340.7 471.7 346 472 C351.3 472.3 358.3 472.5 364 472 C369.7 471.5 375.3 470.2 380 469 C384.7 467.8 387.7 466 392 465 C396.3 464 402.7 462.8 406 463 C409.3 463.2 409.7 465 412 466 C414.3 467 416.6 468.3 420 469 C423.4 469.7 429.4 469.9 432.4 470 C435.4 470.1 435.1 470.3 438 469.6 C440.9 468.9 445.3 467.4 450 466 C454.7 464.6 461.3 462.7 466 461 C470.7 459.3 474.3 457.8 478 456 C481.7 454.2 485.3 452 488 450 C490.7 448 491.8 445.7 494 444 C496.2 442.3 495.7 441.1 501 439.6 C506.3 438.1 517.4 436.6 525.6 435 C533.8 433.4 542.6 431.7 550 430 C557.4 428.3 565 425.9 570 425 C575 424.1 576.7 424.1 580 424.4 C583.3 424.7 587 425.7 590 427 C593 428.3 595.8 430 598 432 C600.2 434 601.7 436.3 603 439 C604.3 441.7 605.4 443.7 606 448 C606.6 452.3 606.3 462.2 606.4 465"/><path d="M710 224.7 C710.7 226.1 712.6 230.8 714.3 233.4 C716 236.1 718.1 237.5 720 240.6 C721.9 243.7 724.3 247.9 725.8 252.2 C727.2 256.5 728.1 262.8 728.7 266.6 C729.3 270.4 729.5 271.4 729.3 275.2 C729.1 279 728.3 284.9 727.3 289.7 C726.2 294.5 724.7 299.7 723 304 C721.3 308.3 719.6 311.7 717.2 315.6 C714.8 319.5 711.4 323.5 708.5 327.2 C705.6 330.9 702.4 335.4 700 338 C697.6 340.6 696 340.7 694 343 C692 345.3 690 349.2 688 352 C686 354.8 684 358 682 360 C680 362 678.3 362.8 676 364 C673.7 365.2 670 365.5 668 367 C666 368.5 664.8 371 664 373 C663.2 375 663.2 378 663 379"/><path d="M691.6 449.4 C691.3 450.3 691.1 453.1 690 455 C688.9 456.9 686.7 459.3 685 461 C683.3 462.7 680.8 464.3 680 465"/>
</g>
</g>
<g clip-path="url(#cr)"><g fill="none" stroke="#000" stroke-opacity="0.42" stroke-width="0.6" stroke-linejoin="round" stroke-linecap="round">
<path d="M95 20 L96 28 L95.6 30 L98 50 L99.6 62 L100 64.4"/><path d="M79 64.6 L100 64.4"/><path d="M17.6 79.2 L29.6 79.2 L36 79.2 L39 78 L44 80 L48 78 L50.4 74 L50.4 69 L54 66 L60 62.4 L64 59 L68 57.2 L72 59.6 L76 62.4 L79 64.6"/><path d="M29.6 79.2 L29.1 81.8 L30.2 84.3 L29.3 86.9 L30.2 89.4 L29.3 92 L30.1 94.5 L29.3 97 L30.2 99.6 L29.3 102.2 L30.1 104.7 L29.1 107.2 L30.2 109.8 L29.2 112.3 L30.2 114.9 L29 117.5 L29.6 120 L29.9 122.5 L29.2 125 L30.4 127.5 L29.2 130 L30.2 132.5 L29.5 135 L30.5 137.5 L29.6 140 L30.5 142.5 L30 145 L32.4 148 L30.7 150.8 L30 154 L28.2 155.8 L26 157 L25.1 159.4 L25 162 L24.9 164.1 L24 166 L25.1 168.7 L27 171 L28.5 173.2 L28.7 175.9 L30.4 178 L30.3 181.1 L29 184 L26.8 185.2 L25 187 L25.6 189.3 L24.7 191.7 L25 194 L26 197 L25.6 199.6 L24.6 202 L24.4 204.7 L25.8 207.3 L25.6 210 L25.2 212.7 L26.5 215.3 L26 218 L27.6 220.1 L30.2 221.1 L32 223 L30.5 225.3 L30 228 L27 230 L27.1 232.6 L26 235 L25.2 238 L25 241 L26.1 243.9 L26.4 247"/><path d="M86.4 64.6 L86.4 70 L94 80 L94.6 89 L99.6 89 L99.6 101 L102 103.6 L106 106 L106.6 120 L106 125 L102 129 L100 134 L99.6 147 L91 147.4 L90.4 153.6 L62 154 L57 155 L54.4 158 L53.6 162 L50 164 L49 166"/><path d="M94.6 89 L160 88 L170 88"/><path d="M194 20 L190 23 L188 28 L190 34 L188 38 L190 43 L187 48 L183 53 L178 57 L173 62 L172.4 70 L173 78 L173 84 L170 86 L171 89 L174 92 L173 96 L177 100 L181 108 L184 116 L186 120 L184 126 L185 132 L183 140 L183 148 L185 154 L187 158 L183 160 L183.6 164 L187 168 L189 173 L193 178 L196 182.4"/><path d="M183 53 L188 49 L194 47 L199 48 L201.6 52 L200 58 L198 62"/><path d="M183 53 L188 54.4 L194 53 L197 57 L198 62"/><path d="M210 20 L207 25 L204.4 30 L207 35 L212 39 L216 43 L216.4 47 L213 52 L206 55 L201.6 57 L199 60 L198 62.4 L199 66 L201 71 L199 76 L198.4 82 L199 87 L204 89 L212 89 L216 90 L217.6 87 L217 83 L214 80 L209 79 L206 77 L207 74 L212 73.6 L218 74.4 L222.4 78 L225 83 L224 90 L222 96 L219 101 L214 103 L211 106 L211 109 L214 111 L219 112 L226 111 L234 109 L242 107 L248 106 L252.4 108 L255 121 L257.5 126 L261 128"/><path d="M201.6 56.4 L290 55.2 L440 52.4 L545 48.6"/><path d="M285 55.2 L284 57.5 L284 60 L282 63 L282.1 65.6 L280.3 67.9 L281.2 70.6 L279.3 72.9 L280 75.6 L279 78 L277.6 80.5 L278.2 83.5 L277 86 L275.9 88.6 L276 91.4 L275 94 L273.2 96.4 L272.7 99.5 L271 102 L269.6 103.8 L269 106 L268.4 108.4 L266.1 110 L265.6 112.5 L264.6 115.3 L262.2 117.3 L261 120 L262.3 121.9 L262.6 124.2 L264 126 L262.8 128.5 L260.1 129.9 L259 132.5 L260.8 134.3 L260.7 137.2 L262.5 139 L263.8 141.3 L264 144 L264.6 146.3 L266.7 147.8 L267.5 150 L269.9 150.8 L272.6 150.3 L275 151 L274.7 153.1 L275.6 155 L273.5 155.9 L271.1 155.1 L269 156 L268 159 L269.9 158 L272 158 L274.2 157.5 L276 156 L278.1 155.3 L280.4 156 L282.5 155 L283.8 157.3 L284 160 L283.3 162.4 L284.7 164.8 L283.6 167.2 L284.4 169.6 L284 172 L282.6 174.3 L282.7 177.3 L280.4 179.2 L280 182 L279.1 184.3 L276.8 185.6 L276 188 L277.4 189.8 L278 192 L280.5 192.7 L283 191.7 L285.5 192.7 L288 192 L290.9 192.8 L293 195 L295.2 196.1 L297.8 195.8 L300 197 L302.5 196.8 L304.8 195.4 L307.4 195.7 L309.6 194.3 L312.2 194.5 L314.5 193.1 L317 193 L320 192 L322.7 191.7 L325.1 190.3 L327.9 190.7 L330.3 189.2 L333 189"/><path d="M252.4 145.6 L257.5 135 L262.5 128"/><path d="M183 161 L213 161 L214 163 L218 163.6 L220 161.6 L231 160.6 L232 158 L243 157 L244 152 L246 151 L247 146 L252.4 145.6"/><path d="M192 161.6 L198 168 L203 174 L206 180 L206 186 L203 189 L207 193 L207 199 L210 204 L213 208 L214 212 L220 214 L228 214 L233 216 L234 222 L232 226 L235 229 L236 231 L235 237 L236 242.6 L250 243 L252.4 245 L253 250"/><path d="M231 160.6 L236 166 L242 174 L248 181 L252.4 183 L258 190 L263 196 L278 197 L290 197"/><path d="M348 54.4 L346.2 56.7 L345.7 59.7 L344 62 L343.4 64.6 L343.9 67.4 L343 70 L343.4 72.6 L344.9 74.9 L344.8 77.6 L346 80 L346 83.1 L345 86 L345.3 89.2 L347 92 L346.5 95.2 L345 98 L345 100.8 L347 103.2 L347 106 L346.3 108.3 L346.6 110.7 L346 113 L344.7 115.4 L344 118 L343 120.4 L340.6 121.7 L340 124.4 L338 126 L335.5 127.5 L334.4 130.4 L331.6 131.6 L330 134 L328.4 135.7 L326.3 136.8 L325.2 139 L323 140 L321.9 142.9 L322 146 L323.1 147.9 L323 150 L322.1 152.6 L322.9 155.4 L322 158 L321.2 160.4 L322.2 163.1 L320.9 165.5 L321 168 L322.4 169.8 L322.6 172.2 L324 174 L325.9 175.6 L326.1 178.4 L328 180 L330 181.8 L331.1 184.2 L333 186 L335.5 187 L337.5 189 L340 190 L342.9 190.8 L345.1 193.1 L348 194 L349.8 195.7 L350.3 198.2 L352 200 L354.3 201.3 L355.8 203.6 L358 205 L360.4 207.2 L362 210 L363.6 212.4 L366.5 213.5 L368 216 L369.5 218.9 L372 221 L374.3 222.1 L376 224 L378.1 223.3 L380 222"/><path d="M395.6 53.2 L396 100 L397 150 L398 158 L402 168 L408 176 L413 184 L414.4 192 L413 200 L410 208 L406 214 L400 218 L392 219 L387 217 L384 214 L381 216 L380 220 L385 224 L385 230 L383 238 L380 244 L381 250 L378 256 L380 263 L382 271 L382 284"/><path d="M271 117 L295 115.6 L346 113"/><path d="M265 127.5 L271 117"/><path d="M335 127.4 L396 126.4"/><path d="M434.4 52.4 L435 70 L440 76 L446 88 L450 100 L453 112 L455 130 L455.6 153 L455.6 170 L457 184 L464 196 L470 208 L473 220"/><path d="M453 112 L480 117 L500 120 L527 120"/><path d="M545 48.6 L546.4 52 L545.4 54.4 L545.6 57 L544.2 59.8 L542 62 L542.1 64.1 L543 66 L542.2 68.5 L540 70 L539.1 72.4 L539.6 75 L539 77.8 L537 80 L536.1 82.3 L537.2 84.7 L536.4 87 L534.1 88.5 L533 91 L532.1 93.8 L530 96 L528.7 98.9 L529 102 L530.2 103.8 L530 106 L528.2 108.7 L528 112 L528.3 114.7 L526.9 117.3 L527 120 L528.8 121.7 L530 124 L530.3 126.3 L532 128 L532.4 130 L532 132 L532.4 134.3 L534.6 135.7 L535 138 L535.7 140.2 L537 142 L538.7 143.6 L539 146 L540.7 148.3 L543 150 L545.4 151.4 L545.9 154.5 L548.6 155.7 L550 158 L551.6 160 L554.4 160 L556 162 L556.3 164.8 L558 167.2 L558 170 L558.6 173.1 L560 176 L562.2 178.1 L562.4 181.4 L565.3 183 L566 186 L566.6 189.1 L568 192 L567.5 195.2 L566 198 L566.8 200.4 L569.2 201.6 L570 204 L570.6 206.2 L572.8 207.6 L573 210 L574 212.5 L576.7 213.7 L578 216 L579 219 L581.9 217.9 L584.4 216 L587.3 217.5 L589.4 220.1 L590.2 223.3"/><path d="M317 193 L312 210 L307 226 L304 234 L303 244 L302 254"/><path d="M280 258 L302 251 L330 244 L340 238 L354 234 L386 227"/><path d="M304 249 L306 247 L320 248 L325 246 L329 248 L328 254 L330 263 L331 267 L337 269 L338 277 L342 278 L342.4 287 L338 289 L334 299 L328 311 L320 323 L312 335 L306 343"/><path d="M414.4 202 L428 203 L432 200 L442 198 L450 201 L460 206 L470 210"/><path d="M473 220 L462 224 L454 226 L450 228 L442 230 L438 236 L430 240 L432 244 L426 250 L420 254 L410 259 L403 261"/><path d="M451 228 L451 260 L452 271 L454 279 L460 285 L466 292 L473 297 L470 307 L466 317 L463 324.6"/><path d="M473 220 L480 226 L481.6 228 L481 260 L479.6 267 L477.6 272 L479 277 L484 279 L490 276 L493 272 L497 276 L502 281 L505 279 L509 278.6 L514 280 L518 283 L520 287 L523 293 L526 298 L528 302 L534 301 L539 303 L542 307 L546 308.6 L552 308 L558 309 L562 314 L568 319 L574 324 L582 328 L592 330 L599.4 336.6"/><path d="M481.6 227 L496 226 L506 222 L514 218 L522 217 L530 219 L538 223 L544 222 L548 220 L552 223 L558 220 L564 224 L570 226 L579 228"/><path d="M570 226 L567.8 227.8 L566 230 L564.2 231.6 L561.7 232.3 L560 234 L559.8 237.1 L559 240 L556.3 241.7 L554 244 L552.8 246.2 L551 248 L552.3 250.2 L554 252 L556 251.6 L558 252"/><path d="M502 281 L500.8 282.9 L500.3 285.2 L499 287 L497.1 288.8 L495.8 291.1 L494 293 L492.2 294.8 L491 297 L491.6 300 L491.6 303 L490.6 305.5 L490 308 L491.7 310.1 L492.5 312.8 L494 315 L495.7 317.4 L497 320 L498.3 322.6 L500 325 L501.3 326.9 L501.8 329.1 L503 331 L504.3 333.9 L505 337 L507 339 L507.2 342.1 L508 345 L508.5 347.5 L508.2 350 L509 352.5 L509 355 L508.8 357.6 L509.4 360.2 L509.1 362.8 L509.7 365.4 L509.6 368 L509.6 370.5 L510 373 L512.2 374.2 L514 376 L514.7 378.6 L516.2 380.9 L516.7 383.6 L518 386 L519 388.4 L519.3 391.1 L520.4 393.4 L521 396 L521.5 398.6 L522.7 401 L523 403.6 L524 406 L524.5 408.8 L524.2 411.6 L525 414.4 L524.6 417.2 L525 420 L525.3 422.5 L524.9 425 L525.5 427.5 L525.1 430 L525.8 432.5 L525.6 435"/><path d="M506 260 L502 265 L501.6 270 L505 274 L514 275 L519 278 L521.6 282 L521 287"/><path d="M93.6 166 L94 174.4 L106 174.4 L106.6 192 L109.6 193 L109.6 198 L113 199 L113 206 L109.6 207 L109.6 209 L106 210 L106 215 L100 216 L99.6 219 L95 220 L93.6 224 L93.6 228 L91 232 L86 235 L81 240 L76 248 L70 252 L62 256 L52 253 L47 250 L43 245 L38 242 L33 245 L26.4 246.6 L22 250 L17.6 252"/><path d="M113 203 L122 196 L124 190 L129 186 L133 190 L136 188 L140 189 L142 187 L141.6 181 L144 179.6 L150 182.4 L160 179 L162 178 L167 180 L173 183 L196 182.4"/><path d="M141 189 L142.9 190.3 L145.2 190.6 L147 192 L145.9 194.6 L145.9 197.4 L145 200 L145.5 203.2 L147 206 L146.4 208.2 L144.8 209.9 L144 212 L146.4 214.2 L148 217 L146.3 219.4 L145 222 L147.2 223.8 L149 226 L150.8 227.3 L153.2 227.7 L155 229 L155.1 231.5 L155.6 234 L154.8 236.5 L152.8 238.5 L152 241 L151.6 243.4 L150.1 245.4 L150.1 247.9 L149 250 L147.6 252.2 L147.2 254.8 L146 257 L144.7 259.1 L144.3 261.5 L142.8 263.5 L142.5 266 L141 268 L140.8 270.5 L141.6 273 L141.1 275.5 L142 278 L141.6 280.5 L142 283 L142.6 285.4 L142.5 287.9 L143.4 290.2 L143.2 292.7 L144 295 L144.6 297.8 L144.2 300.6 L145.1 303.4 L144.6 306.2 L145 309 L145.1 311.7 L144.2 314.3 L144.8 317 L144 319.6 L144.5 322.4 L144 325 L143.7 327.6 L144.4 330.2 L143.6 332.8 L144.4 335.4 L144 338 L142.6 339.9 L141.9 342.2 L140 343.8 L139 346 L137.2 348.2 L134.8 349.8 L133 352 L133.1 354.7 L131.9 357.3 L132 360 L132.4 362.5 L131.8 365 L132.6 367.5 L132.4 370"/><path d="M149 250 L156 250 L158 253 L161 251 L167 254 L172 256 L177 249 L182 244 L184 241 L190 239.4 L198 241 L201 243 L206 249 L210 252 L211 257 L228 257.4 L232 253 L252.4 252 L262.5 252 L272.5 252.5 L275.6 256 L278.8 255 L280 257.5"/><path d="M235 273.6 L239 279 L246 285 L250 293 L253 301 L251.6 309 L256 312 L270 314 L280 315 L286 316 L292 319 L300 321 L303.6 323"/><path d="M279 256 L274 263 L274 270 L278 277 L280 283 L284 287 L286 293 L292 297 L302 300 L304 307 L305 313 L303 319 L304 327 L305 337 L306 343"/><path d="M306 343 L302.9 343.1 L300 344 L297.1 344.9 L294 345 L291.9 345.8 L290.2 347.4 L288 348 L285.9 348.3 L284 349 L283 351.2 L281.2 352.9 L280 355 L279.9 357.1 L279 359 L275.9 359.8 L273 361 L273.7 364 L273.3 367 L274 370 L273.9 372.6 L273 375 L274.3 377.2 L276 379 L278.5 379.6 L280.5 381.4 L283 382 L283.7 384.5 L284 387 L282.7 389.4 L282 392 L280.6 394 L278.4 395.1 L277 397 L274 399 L273.8 402 L273 405 L270.8 406.3 L269 408 L266.6 408.1 L264.4 407.1 L262 407 L259.8 406.3 L258 405 L257.6 407.4 L258.2 409.9 L257.7 412.3 L258.3 414.7 L257.7 417.1 L258.3 419.6 L258 422"/><path d="M27.6 258.6 L27.6 365"/><path d="M151.6 334.4 L156 330 L160 325"/><path d="M215 399 C216.8 399.3 222.2 399.8 226 401 C229.8 402.2 234.3 404.5 238 406 C241.7 407.5 245.3 408.3 248 410 C250.7 411.7 252.2 414 254 416 C255.8 418 257 420 259 422 C261 424 263.5 426.3 266 428 C268.5 429.7 271 430.8 274 432 C277 433.2 281.7 434.3 284 435 C286.3 435.7 286 435.5 288 436 C290 436.5 294 437 296 438 C298 439 298.3 441 300 442 C301.7 443 303.7 443.5 306 444 C308.3 444.5 311 444.5 314 445 C317 445.5 321.3 446.5 324 447 C326.7 447.5 329.8 447.5 330 448 C330.2 448.5 326.5 448.8 325 450 C323.5 451.2 321.7 453 321 455 C320.3 457 320.3 460 321 462 C321.7 464 323.2 465.6 325 467 C326.8 468.4 328.5 469.6 332 470.4 C335.5 471.2 340.7 471.7 346 472 C351.3 472.3 358.3 472.5 364 472 C369.7 471.5 375.3 470.2 380 469 C384.7 467.8 387.7 466 392 465 C396.3 464 402.7 462.8 406 463 C409.3 463.2 409.7 465 412 466 C414.3 467 416.6 468.3 420 469 C423.4 469.7 429.4 469.9 432.4 470 C435.4 470.1 435.1 470.3 438 469.6 C440.9 468.9 445.3 467.4 450 466 C454.7 464.6 461.3 462.7 466 461 C470.7 459.3 474.3 457.8 478 456 C481.7 454.2 485.3 452 488 450 C490.7 448 491.8 445.7 494 444 C496.2 442.3 495.7 441.1 501 439.6 C506.3 438.1 517.4 436.6 525.6 435 C533.8 433.4 542.6 431.7 550 430 C557.4 428.3 565 425.9 570 425 C575 424.1 576.7 424.1 580 424.4 C583.3 424.7 587 425.7 590 427 C593 428.3 595.8 430 598 432 C600.2 434 601.7 436.3 603 439 C604.3 441.7 605.4 443.7 606 448 C606.6 452.3 606.3 462.2 606.4 465"/><path d="M405 284 L392 285 L382 284 L376 283 L372 280.6 L366 281 L360 279"/><path d="M403 255 L402.7 257.4 L403.2 259.8 L402.7 262.2 L403.1 264.6 L403 267 L406 269 L405.9 271.7 L406.5 274.3 L406.3 277 L406.8 279.7 L406.6 282.3 L407 285 L408.7 287.4 L410 290 L411.9 291.2 L414.1 291.8 L416 293 L416.3 295.5 L417.3 297.9 L417.3 300.5 L418 303 L420.7 304.2 L423.2 305.9 L426 307 L428.8 308.1 L431.3 309.8 L434 311 L435.5 312.9 L436.6 315.1 L438 317 L439.2 319.5 L439.8 322.2 L441 324.6 L443.8 324.3 L446.5 324.9 L449.2 324.4 L452 324.7 L454.8 324.4 L457.5 324.8 L460.2 324.3 L463 324.6 L465.3 325 L467.7 324.7 L470 325 L471.9 326.2 L474 327 L474.5 329.6 L474.5 332.4 L475 335 L475.5 337.6 L475.5 340.4 L476 343 L475.7 345.5 L475 348 L472.9 349.4 L471 351 L472.2 352.9 L473 355 L474.8 356.7 L477 358 L477.7 361 L478 364 L478.8 366.1 L480 368 L482.1 368.8 L483.9 370.2 L486 371 L488.7 371.2 L491.3 371.9 L494 372 L496.6 373.4 L499 375 L499.4 377.4 L500.5 379.6 L501 382 L500.4 384.6 L500.6 387.4 L500 390 L500 392.7 L500.8 395.3 L501 398 L502.5 399.9 L504.5 401.2 L506 403 L505.7 405.5 L506 408 L504.5 409.8 L502.5 411.2 L501 413 L499.9 415.5 L498.1 417.5 L497 420 L496.2 423.1 L495 426 L492.9 427.9 L491 430 L491.2 432.5 L490.7 435 L491.2 437.5 L491 440 L491.1 442.7 L491.9 445.3 L492 448"/><path d="M358.4 315 L362 319 L366 325 L370 329 L376 332 L382 337 L386 343 L392 346 L396 351 L400 357 L406 363 L410 366 L418 372 L422 378 L428 384 L434 392 L437 400 L436 408 L433 414 L432 420 L432.4 440 L432.4 470"/><path d="M710 224.7 C710.7 226.1 712.6 230.8 714.3 233.4 C716 236.1 718.1 237.5 720 240.6 C721.9 243.7 724.3 247.9 725.8 252.2 C727.2 256.5 728.1 262.8 728.7 266.6 C729.3 270.4 729.5 271.4 729.3 275.2 C729.1 279 728.3 284.9 727.3 289.7 C726.2 294.5 724.7 299.7 723 304 C721.3 308.3 719.6 311.7 717.2 315.6 C714.8 319.5 711.4 323.5 708.5 327.2 C705.6 330.9 702.4 335.4 700 338 C697.6 340.6 696 340.7 694 343 C692 345.3 690 349.2 688 352 C686 354.8 684 358 682 360 C680 362 678.3 362.8 676 364 C673.7 365.2 670 365.5 668 367 C666 368.5 664.8 371 664 373 C663.2 375 663.2 378 663 379"/><path d="M691.6 449.4 C691.3 450.3 691.1 453.1 690 455 C688.9 456.9 686.7 459.3 685 461 C683.3 462.7 680.8 464.3 680 465"/><path d="M504 262 L510 261 L518 259 L524 259.6 L528 261"/>
</g></g>
<g font-size="5" fill="#000" fill-opacity="0.72" text-anchor="middle">
<text transform="translate(269 73) rotate(52)" y="1.7">-15000</text>
<text transform="translate(373 125) rotate(12)" y="1.7">-15000</text>
<text transform="translate(476 169) rotate(65)" y="1.7">-15000</text>
<text transform="translate(502 68) rotate(25)" y="1.7">-10000</text>
<text transform="translate(551.6 165) rotate(55)" y="1.7">-10000</text>
<text transform="translate(263 205) rotate(12)" y="1.7">-20000</text>
<text transform="translate(379 222.4) rotate(5)" y="1.7">-20000</text>
<text transform="translate(490 255) rotate(-20)" y="1.7">-20000</text>
</g>
<g stroke="#111" stroke-width="0.4" fill="none">
<path d="M251.1 98h2.6M252.4 96.7v2.6"/><circle cx="252.4" cy="98" r="0.45" fill="#111" stroke="none"/>
<circle cx="279.4" cy="102" r="0.9" fill="#000" stroke="none"/>
<path d="M286.1 62.2h2.6M287.4 60.9v2.6"/><circle cx="287.4" cy="62.2" r="0.45" fill="#111" stroke="none"/>
<path d="M322.7 86.4h2.6M324 85.1v2.6"/><circle cx="324" cy="86.4" r="0.45" fill="#111" stroke="none"/>
<circle cx="355.6" cy="81.4" r="0.95"/>
<path d="M387.9 81h2.6M389.2 79.7v2.6"/><circle cx="389.2" cy="81" r="0.45" fill="#111" stroke="none"/>
<path d="M430.3 86.6h2.6M431.6 85.3v2.6"/><circle cx="431.6" cy="86.6" r="0.45" fill="#111" stroke="none"/>
<path d="M318.1 99.4h2.6M319.4 98.1v2.6"/><circle cx="319.4" cy="99.4" r="0.45" fill="#111" stroke="none"/>
<path d="M357.1 104h2.6M358.4 102.7v2.6"/><circle cx="358.4" cy="104" r="0.45" fill="#111" stroke="none"/>
<path d="M389.1 117.2h2.6M390.4 115.9v2.6"/><circle cx="390.4" cy="117.2" r="0.45" fill="#111" stroke="none"/>
<path d="M435.7 109.6h2.6M437 108.3v2.6"/><circle cx="437" cy="109.6" r="0.45" fill="#111" stroke="none"/>
<path d="M300.1 144h2.6M301.4 142.7v2.6"/><circle cx="301.4" cy="144" r="0.45" fill="#111" stroke="none"/>
<circle cx="281.4" cy="127.4" r="0.95"/>
<path d="M510.3 74.4h2.6M511.6 73.1v2.6"/><circle cx="511.6" cy="74.4" r="0.45" fill="#111" stroke="none"/>
<path d="M492.7 79.4h2.6M494 78.1v2.6"/><circle cx="494" cy="79.4" r="0.45" fill="#111" stroke="none"/>
<path d="M504.7 87h2.6M506 85.7v2.6"/><circle cx="506" cy="87" r="0.45" fill="#111" stroke="none"/>
<path d="M482.3 97.6h2.6M483.6 96.3v2.6"/><circle cx="483.6" cy="97.6" r="0.45" fill="#111" stroke="none"/>
<path d="M501.7 113.6h2.6M503 112.3v2.6"/><circle cx="503" cy="113.6" r="0.45" fill="#111" stroke="none"/>
<path d="M508.7 139h2.6M510 137.7v2.6"/><circle cx="510" cy="139" r="0.45" fill="#111" stroke="none"/>
<circle cx="228.4" cy="137" r="0.95"/>
<path d="M216.3 165.6h2.6M217.6 164.3v2.6"/><circle cx="217.6" cy="165.6" r="0.45" fill="#111" stroke="none"/>
<path d="M211.1 196h2.6M212.4 194.7v2.6"/><circle cx="212.4" cy="196" r="0.45" fill="#111" stroke="none"/>
<path d="M228.1 225.4h2.6M229.4 224.1v2.6"/><circle cx="229.4" cy="225.4" r="0.45" fill="#111" stroke="none"/>
<path d="M258.7 200.6h2.6M260 199.3v2.6"/><circle cx="260" cy="200.6" r="0.45" fill="#111" stroke="none"/>
<circle cx="268" cy="144" r="0.95"/>
<path d="M262.3 166h2.6M263.6 164.7v2.6"/><circle cx="263.6" cy="166" r="0.45" fill="#111" stroke="none"/>
<path d="M330.3 156h2.6M331.6 154.7v2.6"/><circle cx="331.6" cy="156" r="0.45" fill="#111" stroke="none"/>
<circle cx="368" cy="156" r="0.95"/>
<path d="M380.7 175.4h2.6M382 174.1v2.6"/><circle cx="382" cy="175.4" r="0.45" fill="#111" stroke="none"/>
<path d="M422.3 180.4h2.6M423.6 179.1v2.6"/><circle cx="423.6" cy="180.4" r="0.45" fill="#111" stroke="none"/>
<circle cx="305.2" cy="182" r="0.9" fill="#000" stroke="none"/>
<path d="M331.7 186h2.6M333 184.7v2.6"/><circle cx="333" cy="186" r="0.45" fill="#111" stroke="none"/>
<path d="M298.7 195.6h2.6M300 194.3v2.6"/><circle cx="300" cy="195.6" r="0.45" fill="#111" stroke="none"/>
<circle cx="334.4" cy="203.4" r="0.95"/>
<path d="M391.9 200.4h2.6M393.2 199.1v2.6"/><circle cx="393.2" cy="200.4" r="0.45" fill="#111" stroke="none"/>
<path d="M395.7 217h2.6M397 215.7v2.6"/><circle cx="397" cy="217" r="0.45" fill="#111" stroke="none"/>
<path d="M302.7 227h2.6M304 225.7v2.6"/><circle cx="304" cy="227" r="0.45" fill="#111" stroke="none"/>
<path d="M351.7 234h2.6M353 232.7v2.6"/><circle cx="353" cy="234" r="0.45" fill="#111" stroke="none"/>
<path d="M391.1 233.6h2.6M392.4 232.3v2.6"/><circle cx="392.4" cy="233.6" r="0.45" fill="#111" stroke="none"/>
<path d="M418.3 229.4h2.6M419.6 228.1v2.6"/><circle cx="419.6" cy="229.4" r="0.45" fill="#111" stroke="none"/>
<path d="M287.7 236h2.6M289 234.7v2.6"/><circle cx="289" cy="236" r="0.45" fill="#111" stroke="none"/>
<path d="M349.9 247.4h2.6M351.2 246.1v2.6"/><circle cx="351.2" cy="247.4" r="0.45" fill="#111" stroke="none"/>
<path d="M416.7 249h2.6M418 247.7v2.6"/><circle cx="418" cy="249" r="0.45" fill="#111" stroke="none"/>
<path d="M301.3 254h2.6M302.6 252.7v2.6"/><circle cx="302.6" cy="254" r="0.45" fill="#111" stroke="none"/>
<path d="M394.7 257h2.6M396 255.7v2.6"/><circle cx="396" cy="257" r="0.45" fill="#111" stroke="none"/>
<path d="M448.7 154.4h2.6M450 153.1v2.6"/><circle cx="450" cy="154.4" r="0.45" fill="#111" stroke="none"/>
<path d="M465.1 184.4h2.6M466.4 183.1v2.6"/><circle cx="466.4" cy="184.4" r="0.45" fill="#111" stroke="none"/>
<path d="M472.7 196h2.6M474 194.7v2.6"/><circle cx="474" cy="196" r="0.45" fill="#111" stroke="none"/>
<path d="M515.1 182h2.6M516.4 180.7v2.6"/><circle cx="516.4" cy="182" r="0.45" fill="#111" stroke="none"/>
<path d="M556.3 182h2.6M557.6 180.7v2.6"/><circle cx="557.6" cy="182" r="0.45" fill="#111" stroke="none"/>
<path d="M512.7 218h2.6M514 216.7v2.6"/><circle cx="514" cy="218" r="0.45" fill="#111" stroke="none"/>
<path d="M456.7 230.6h2.6M458 229.3v2.6"/><circle cx="458" cy="230.6" r="0.45" fill="#111" stroke="none"/>
<circle cx="449.6" cy="244.4" r="0.9" fill="#000" stroke="none"/>
<path d="M518.7 248h2.6M520 246.7v2.6"/><circle cx="520" cy="248" r="0.45" fill="#111" stroke="none"/>
<path d="M577.1 232.4h2.6M578.4 231.1v2.6"/><circle cx="578.4" cy="232.4" r="0.45" fill="#111" stroke="none"/>
<path d="M584.9 299h2.6M586.2 297.7v2.6"/><circle cx="586.2" cy="299" r="0.45" fill="#111" stroke="none"/>
<path d="M252.3 233h2.6M253.6 231.7v2.6"/><circle cx="253.6" cy="233" r="0.45" fill="#111" stroke="none"/>
<circle cx="222" cy="239.4" r="0.9" fill="#000" stroke="none"/>
<circle cx="259.6" cy="261" r="0.95"/>
<path d="M213.3 272.6h2.6M214.6 271.3v2.6"/><circle cx="214.6" cy="272.6" r="0.45" fill="#111" stroke="none"/>
<path d="M260.1 276.6h2.6M261.4 275.3v2.6"/><circle cx="261.4" cy="276.6" r="0.45" fill="#111" stroke="none"/>
<path d="M243.3 290.2h2.6M244.6 288.9v2.6"/><circle cx="244.6" cy="290.2" r="0.45" fill="#111" stroke="none"/>
<path d="M286.3 282.4h2.6M287.6 281.1v2.6"/><circle cx="287.6" cy="282.4" r="0.45" fill="#111" stroke="none"/>
<path d="M226.9 306.6h2.6M228.2 305.3v2.6"/><circle cx="228.2" cy="306.6" r="0.45" fill="#111" stroke="none"/>
<path d="M294.3 299.4h2.6M295.6 298.1v2.6"/><circle cx="295.6" cy="299.4" r="0.45" fill="#111" stroke="none"/>
<path d="M264.7 315h2.6M266 313.7v2.6"/><circle cx="266" cy="315" r="0.45" fill="#111" stroke="none"/>
<path d="M233.1 332h2.6M234.4 330.7v2.6"/><circle cx="234.4" cy="332" r="0.45" fill="#111" stroke="none"/>
<path d="M267.7 333.4h2.6M269 332.1v2.6"/><circle cx="269" cy="333.4" r="0.45" fill="#111" stroke="none"/>
<circle cx="350.4" cy="264.4" r="0.95"/>
<circle cx="347" cy="278" r="0.95"/>
<path d="M388.3 284h2.6M389.6 282.7v2.6"/><circle cx="389.6" cy="284" r="0.45" fill="#111" stroke="none"/>
<circle cx="418" cy="270.6" r="0.95"/>
<circle cx="384" cy="301.4" r="0.9" fill="#000" stroke="none"/>
<path d="M415.7 304h2.6M417 302.7v2.6"/><circle cx="417" cy="304" r="0.45" fill="#111" stroke="none"/>
<path d="M331.1 308.4h2.6M332.4 307.1v2.6"/><circle cx="332.4" cy="308.4" r="0.45" fill="#111" stroke="none"/>
<path d="M295.1 319.4h2.6M296.4 318.1v2.6"/><circle cx="296.4" cy="319.4" r="0.45" fill="#111" stroke="none"/>
<path d="M375.1 320h2.6M376.4 318.7v2.6"/><circle cx="376.4" cy="320" r="0.45" fill="#111" stroke="none"/>
<path d="M339.1 334.4h2.6M340.4 333.1v2.6"/><circle cx="340.4" cy="334.4" r="0.45" fill="#111" stroke="none"/>
<path d="M304.3 337.6h2.6M305.6 336.3v2.6"/><circle cx="305.6" cy="337.6" r="0.45" fill="#111" stroke="none"/>
<path d="M367.7 341.4h2.6M369 340.1v2.6"/><circle cx="369" cy="341.4" r="0.45" fill="#111" stroke="none"/>
<path d="M420.1 334h2.6M421.4 332.7v2.6"/><circle cx="421.4" cy="334" r="0.45" fill="#111" stroke="none"/>
<path d="M313.1 346.2h2.6M314.4 344.9v2.6"/><circle cx="314.4" cy="346.2" r="0.45" fill="#111" stroke="none"/>
<circle cx="345.6" cy="349" r="0.95"/>
<path d="M422.3 355h2.6M423.6 353.7v2.6"/><circle cx="423.6" cy="355" r="0.45" fill="#111" stroke="none"/>
<circle cx="302.6" cy="361" r="0.95"/>
<path d="M379.3 362.2h2.6M380.6 360.9v2.6"/><circle cx="380.6" cy="362.2" r="0.45" fill="#111" stroke="none"/>
<path d="M526.7 260.6h2.6M528 259.3v2.6"/><circle cx="528" cy="260.6" r="0.45" fill="#111" stroke="none"/>
<path d="M558.7 260h2.6M560 258.7v2.6"/><circle cx="560" cy="260" r="0.45" fill="#111" stroke="none"/>
<path d="M561.7 275.4h2.6M563 274.1v2.6"/><circle cx="563" cy="275.4" r="0.45" fill="#111" stroke="none"/>
<path d="M452.3 279h2.6M453.6 277.7v2.6"/><circle cx="453.6" cy="279" r="0.45" fill="#111" stroke="none"/>
<path d="M459.7 284h2.6M461 282.7v2.6"/><circle cx="461" cy="284" r="0.45" fill="#111" stroke="none"/>
<path d="M548.3 302h2.6M549.6 300.7v2.6"/><circle cx="549.6" cy="302" r="0.45" fill="#111" stroke="none"/>
<path d="M494.7 318.6h2.6M496 317.3v2.6"/><circle cx="496" cy="318.6" r="0.45" fill="#111" stroke="none"/>
<circle cx="544.6" cy="325" r="0.9" fill="#000" stroke="none"/>
<path d="M489.1 342.6h2.6M490.4 341.3v2.6"/><circle cx="490.4" cy="342.6" r="0.45" fill="#111" stroke="none"/>
<path d="M573.7 346.6h2.6M575 345.3v2.6"/><circle cx="575" cy="346.6" r="0.45" fill="#111" stroke="none"/>
<circle cx="480.6" cy="357.6" r="0.9" fill="#000" stroke="none"/>
<path d="M539.7 360.2h2.6M541 358.9v2.6"/><circle cx="541" cy="360.2" r="0.45" fill="#111" stroke="none"/>
<circle cx="251" cy="354.4" r="0.95"/>
<circle cx="232.6" cy="363" r="0.95"/>
<circle cx="261" cy="379.6" r="0.95"/>
<path d="M237.1 388.8h2.6M238.4 387.5v2.6"/><circle cx="238.4" cy="388.8" r="0.45" fill="#111" stroke="none"/>
<circle cx="279" cy="385.6" r="0.9" fill="#000" stroke="none"/>
<path d="M252.7 401h2.6M254 399.7v2.6"/><circle cx="254" cy="401" r="0.45" fill="#111" stroke="none"/>
<path d="M272.3 412h2.6M273.6 410.7v2.6"/><circle cx="273.6" cy="412" r="0.45" fill="#111" stroke="none"/>
<path d="M338.1 368.4h2.6M339.4 367.1v2.6"/><circle cx="339.4" cy="368.4" r="0.45" fill="#111" stroke="none"/>
<path d="M293.7 381.4h2.6M295 380.1v2.6"/><circle cx="295" cy="381.4" r="0.45" fill="#111" stroke="none"/>
<path d="M335.3 386.6h2.6M336.6 385.3v2.6"/><circle cx="336.6" cy="386.6" r="0.45" fill="#111" stroke="none"/>
<path d="M414.3 392.6h2.6M415.6 391.3v2.6"/><circle cx="415.6" cy="392.6" r="0.45" fill="#111" stroke="none"/>
<circle cx="384" cy="396.6" r="0.95"/>
<path d="M348.7 402.6h2.6M350 401.3v2.6"/><circle cx="350" cy="402.6" r="0.45" fill="#111" stroke="none"/>
<circle cx="295.6" cy="413.4" r="0.95"/>
<path d="M351.7 417.4h2.6M353 416.1v2.6"/><circle cx="353" cy="417.4" r="0.45" fill="#111" stroke="none"/>
<circle cx="404" cy="420.2" r="0.9" fill="#000" stroke="none"/>
<circle cx="378.4" cy="426.4" r="0.95"/>
<path d="M338.7 438.2h2.6M340 436.9v2.6"/><circle cx="340" cy="438.2" r="0.45" fill="#111" stroke="none"/>
<path d="M303.1 440.6h2.6M304.4 439.3v2.6"/><circle cx="304.4" cy="440.6" r="0.45" fill="#111" stroke="none"/>
<circle cx="393.2" cy="446" r="0.95"/>
<path d="M361.1 457.2h2.6M362.4 455.9v2.6"/><circle cx="362.4" cy="457.2" r="0.45" fill="#111" stroke="none"/>
<circle cx="389.6" cy="459.4" r="0.95"/>
<path d="M417.1 465.6h2.6M418.4 464.3v2.6"/><circle cx="418.4" cy="465.6" r="0.45" fill="#111" stroke="none"/>
<circle cx="493.4" cy="378" r="0.9" fill="#000" stroke="none"/>
<path d="M542.7 377.6h2.6M544 376.3v2.6"/><circle cx="544" cy="377.6" r="0.45" fill="#111" stroke="none"/>
<path d="M558.7 379.6h2.6M560 378.3v2.6"/><circle cx="560" cy="379.6" r="0.45" fill="#111" stroke="none"/>
<path d="M535.7 399h2.6M537 397.7v2.6"/><circle cx="537" cy="399" r="0.45" fill="#111" stroke="none"/>
<circle cx="577.4" cy="405" r="0.95"/>
<path d="M484.7 411.6h2.6M486 410.3v2.6"/><circle cx="486" cy="411.6" r="0.45" fill="#111" stroke="none"/>
<path d="M573.1 416.6h2.6M574.4 415.3v2.6"/><circle cx="574.4" cy="416.6" r="0.45" fill="#111" stroke="none"/>
<circle cx="492.4" cy="440.4" r="0.95"/>
</g>
<g font-size="3.05" fill="#000" text-anchor="middle">
<text x="252.4" y="102.6">Rosedown Plantation #1</text>
<text x="279.4" y="106.6">McGill #1</text>
<text x="287.4" y="66.8">H. H. Tolusso #1</text>
<text x="324" y="91">Boy Scouts of America #1</text>
<text x="355.6" y="86">W. E. Day #1</text>
<text x="389.2" y="85.6">Phillips #1</text>
<text x="431.6" y="91.2">Andrew Graze et al #1</text>
<text x="319.4" y="104">Bob R. Jones &quot;A-A&quot; #1</text>
<text x="358.4" y="108.6">Spearbary Lumber Co #1</text>
<text x="390.4" y="121.8">A. Claudet Plantation #1</text>
<text x="437" y="114.2">Murphy Rollnes #1</text>
<text x="301.4" y="148.6">D. A. Tranchina #1</text>
<text x="281.4" y="132">W. N. McVea et al #1</text>
<text x="511.6" y="79">Crown Zellerbach Corporation #1</text>
<text x="494" y="84">Crown Zellerbach Corporation #3</text>
<text x="506" y="91.6">Crown Zellerbach Corporation #2</text>
<text x="483.6" y="102.2">Mrs Fannie T. Brooks #1</text>
<text x="503" y="118.2">Gaylord Container Corp. Fee #1</text>
<text x="510" y="143.6">Bogalusa Tung Oil Co. Inc. #1</text>
<text x="228.4" y="141.6">Leblanc - Lajauna #1</text>
<text x="217.6" y="170.2">E. G. Hynes #1</text>
<text x="212.4" y="200.6">Jeanerette Lumber &amp; Shingle Co. #2</text>
<text x="229.4" y="230">Schwing Lumber &amp; Shingle Co. Inc. #2</text>
<text x="260" y="205.2">J. A. Gianelloni #1</text>
<text x="268" y="148.6">Frank Marsh #1</text>
<text x="263.6" y="170.6">Martin J. Kahao #1</text>
<text x="331.6" y="160.6">Barnett Hera #1</text>
<text x="368" y="160.6">Crown Zellerbach #1</text>
<text x="382" y="180">Hammond Oil &amp; Gas Co. #1</text>
<text x="423.6" y="185">William T. Joyce #1</text>
<text x="305.2" y="186.6">Hampster #2</text>
<text x="333" y="190.6">Livingston Lumber Co. #1</text>
<text x="300" y="200.2">Gueldilon # 0</text>
<text x="334.4" y="208">Earl Miller #1</text>
<text x="393.2" y="205">James Musice et al #1</text>
<text x="397" y="221.6">Lutcher-Moore Cypress Co #1</text>
<text x="304" y="231.6">J. B. Robertson #1</text>
<text x="353" y="238.6">E. du Mistau et al #A-1</text>
<text x="392.4" y="238.2">Luther Moore #B-3</text>
<text x="419.6" y="234">St. John Land Co #1</text>
<text x="289" y="240.6">Lois B. Babin Co. Inc. #1</text>
<text x="351.2" y="252">Clarence G. Boyce #1</text>
<text x="418" y="253.6">Montegut et al #2</text>
<text x="302.6" y="258.6">Savoie Farms Inc #1</text>
<text x="396" y="261.6">Camille Roussel #1</text>
<text x="450" y="159">Kelly #1</text>
<text x="466.4" y="189">SL 1171 #1</text>
<text x="474" y="200.6">SL 1190 #1</text>
<text x="516.4" y="186.6">Curtis #1</text>
<text x="557.6" y="186.6">Pickpocket &amp; Farris Lumber Co #1</text>
<text x="514" y="222.6">SL 6753 #1</text>
<text x="458" y="235.2">SL 8870 #2</text>
<text x="449.6" y="249">SL 2113 #2</text>
<text x="520" y="252.6">Dunbar Packing Co Mortgate #H-1</text>
<text x="578.4" y="237">SL 3551 #2</text>
<text x="586.2" y="303.6">Biloxi Marshland #1</text>
<text x="253.6" y="237.6">Wilbert &quot;A&quot; #1</text>
<text x="222" y="244">Schwing &quot;B&quot; #B-5</text>
<text x="259.6" y="265.6">Cocke &quot;A&quot; #1</text>
<text x="214.6" y="277.2">SL 6024 #1</text>
<text x="261.4" y="281.2">SL 5326 #1</text>
<text x="244.6" y="294.8">SL 5706 #2</text>
<text x="287.6" y="287">SL 5245 #1</text>
<text x="228.2" y="311.2">F. P. Boyer #1</text>
<text x="295.6" y="304">Cocke &amp; Goodrich et al #1</text>
<text x="266" y="319.6">SL 2647 #2</text>
<text x="234.4" y="336.6">Burguieres Co. Ltd #1</text>
<text x="269" y="338">Florence R. Cotten et al #1A</text>
<text x="350.4" y="269">F. Braupnard #1</text>
<text x="347" y="282.6">Bowie Lumber Co. Ltd#1</text>
<text x="389.6" y="288.6">City of New Orleans #1</text>
<text x="418" y="275.2">Occidental Fee #1</text>
<text x="384" y="306">Lafourche Basin Levee District #1</text>
<text x="417" y="308.6">Armand Bourgeois #1</text>
<text x="332.4" y="313">Legendre Land Corp #2</text>
<text x="296.4" y="324">SL 3578 #1</text>
<text x="376.4" y="324.6">Lovell J. Parfuit #1</text>
<text x="340.4" y="339">E. W. Brown Jr et al B #1</text>
<text x="305.6" y="342.2">C. M. Thibodaux Co. Ltd. #1-A</text>
<text x="369" y="346">Louis E. Cadiere Heirs #1</text>
<text x="421.4" y="338.6">Ghisone Realty Co. #2</text>
<text x="314.4" y="350.8">R. Kuntz et al #1</text>
<text x="345.6" y="353.6">&quot;Y&quot; Sand Unit #1</text>
<text x="423.6" y="359.6">Angela S. Templet et al #1</text>
<text x="302.6" y="365.6">C.L. &amp; F &quot;A&quot; #18</text>
<text x="380.6" y="366.8">South Coast Corporation #F-1</text>
<text x="528" y="265.2">Joseph M. Meraux #1</text>
<text x="560" y="264.6">SL 5407 #1</text>
<text x="563" y="280">SL 5409 #1</text>
<text x="453.6" y="283.6">E. P. Brady #2</text>
<text x="461" y="288.6">SL 3228 #1</text>
<text x="549.6" y="306.6">Albert Ruiz #G-1</text>
<text x="496" y="323.2">E. P. Brady et al #2</text>
<text x="544.6" y="329.6">SL 335 Delacroix #59</text>
<text x="490.4" y="347.2">Madison Realty Co. et al #B-5</text>
<text x="575" y="351.2">SL 7041 #1</text>
<text x="480.6" y="362.2">SL 2453 #1</text>
<text x="541" y="364.8">Bradish Johnson #6</text>
<text x="251" y="359">Belle Isle Uny #9-2</text>
<text x="232.6" y="367.6">VUA; SL 5043 #1</text>
<text x="261" y="384.2">SL 5097 #2</text>
<text x="238.4" y="393.4">SL 5667 #1</text>
<text x="279" y="390.2">SL 4663 #1-A</text>
<text x="254" y="405.6">SL 4899 #1</text>
<text x="273.6" y="416.6">Mary A. Smith Nelson et al #1</text>
<text x="339.4" y="373">Continental Land &amp; Fur Co. #1</text>
<text x="295" y="386">A. Terre Co. Inc &quot;B&quot; #12</text>
<text x="336.6" y="391.2">Terrebonne Parish Sch Board #1</text>
<text x="415.6" y="397.2">Laterre Company Inc #D-13</text>
<text x="384" y="401.2">Laterre Co. Inc &quot;C&quot; # 4</text>
<text x="350" y="407.2">SL Martin #1</text>
<text x="295.6" y="418">SL 4714 #1</text>
<text x="353" y="422">SL 6327 #1</text>
<text x="404" y="424.8">SL 4274 #1</text>
<text x="378.4" y="431">L.L.&amp;E Unit 6 #1</text>
<text x="340" y="442.8">LL&amp;E &quot;C&quot; #1</text>
<text x="304.4" y="445.2">SL 6334 #1</text>
<text x="393.2" y="450.6">SL 2620 #27</text>
<text x="362.4" y="461.8">SL 6255 #2</text>
<text x="389.6" y="464">SL 4238 #5</text>
<text x="418.4" y="470.2">SL 4799 #1</text>
<text x="493.4" y="382.6">Bay De Chene #D-1</text>
<text x="544" y="382.2">E. Cockrell Jr. et. al. #1</text>
<text x="560" y="384.2">Cutler et al #1</text>
<text x="537" y="403.6">SL 1391</text>
<text x="577.4" y="409.6">Buras Levee District #13</text>
<text x="486" y="416.2">LL&amp;E #1</text>
<text x="574.4" y="421.2">SL 4241 #1</text>
<text x="492.4" y="445">SL 5613 #1</text>
</g>
<g font-size="9.55" font-weight="bold" fill="#000" text-anchor="middle">
<text x="412.4" y="32.7">Structure map of Washita/Fredericksburg</text>
<text x="412.5" y="43.2">Southeast Louisiana</text>
</g>
<g fill="none" stroke="#777" stroke-width="0.4">
<circle cx="36" cy="38.5" r="5.9"/>
<path d="M36 31.2L36.8 38.5L36 47L35.2 38.5ZM28.6 38.5L36 37.8L43.4 38.5L36 39.2Z" stroke="#aaa" stroke-width="0.3"/>
<path d="M36 24.8c-.4 1.5-.6 3-.6 4.2c-.4.4-.7.8-.7 1.3h2.6c0-.5-.3-.9-.7-1.3c0-1.2-.2-2.7-.6-4.2z" fill="#777" stroke="#777" stroke-width="0.25"/>
<g fill="#777" stroke="none"><circle cx="31.8" cy="34.3" r="0.45"/><circle cx="40.2" cy="34.3" r="0.45"/><circle cx="31.8" cy="42.7" r="0.45"/><circle cx="40.2" cy="42.7" r="0.45"/><circle cx="29.4" cy="38.5" r="0.45"/><circle cx="42.6" cy="38.5" r="0.45"/><circle cx="36" cy="32.2" r="0.6"/></g>
</g>
<text x="36" y="41.8" font-size="9.2" text-anchor="middle" fill="#fff" stroke="#666" stroke-width="0.3">N</text>
<rect x="718.6" y="30" width="44.8" height="101.8" fill="#fff" stroke="#ebebeb" stroke-width="0.6"/>
<text x="721" y="35.3" font-size="4.72" font-weight="bold" fill="#000">Elevation depth [ft]</text>
<rect x="721" y="40.2" width="7.8" height="5.7" fill="#ff0000"/>
<rect x="721" y="45.9" width="7.8" height="5.7" fill="#ff6c00"/>
<rect x="721" y="51.5" width="7.8" height="5.7" fill="#ffb200"/>
<rect x="721" y="57.1" width="7.8" height="5.7" fill="#ffee00"/>
<rect x="721" y="62.7" width="7.8" height="5.7" fill="#ddff00"/>
<rect x="721" y="68.3" width="7.8" height="5.7" fill="#a4ff00"/>
<rect x="721" y="73.9" width="7.8" height="5.7" fill="#44ff00"/>
<rect x="721" y="79.5" width="7.8" height="5.7" fill="#00ff64"/>
<rect x="721" y="85.1" width="7.8" height="5.7" fill="#00ffb6"/>
<rect x="721" y="90.7" width="7.8" height="5.7" fill="#00ffff"/>
<rect x="721" y="96.3" width="7.8" height="5.7" fill="#00ceff"/>
<rect x="721" y="102" width="7.8" height="5.7" fill="#0094ff"/>
<rect x="721" y="107.6" width="7.8" height="5.7" fill="#002eff"/>
<rect x="721" y="113.2" width="7.8" height="5.7" fill="#7700ff"/>
<rect x="721" y="118.8" width="7.8" height="5.7" fill="#cc00ff"/>
<rect x="721" y="124.4" width="7.8" height="5.7" fill="#ff00ff"/>
<g font-size="4" fill="#000">
<text x="730.6" y="41.6">-7000</text>
<text x="730.6" y="47.2">-8000</text>
<text x="730.6" y="52.8">-9000</text>
<text x="730.6" y="58.4">-10000</text>
<text x="730.6" y="64">-11000</text>
<text x="730.6" y="69.6">-12000</text>
<text x="730.6" y="75.3">-13000</text>
<text x="730.6" y="80.9">-14000</text>
<text x="730.6" y="86.5">-15000</text>
<text x="730.6" y="92.1">-16000</text>
<text x="730.6" y="97.7">-17000</text>
<text x="730.6" y="103.3">-18000</text>
<text x="730.6" y="108.9">-19000</text>
<text x="730.6" y="114.5">-20000</text>
<text x="730.6" y="120.1">-21000</text>
<text x="730.6" y="125.8">-22000</text>
<text x="730.6" y="131.4">-23000</text>
</g>
<g>
<rect x="625.4" y="379" width="141" height="70.4" fill="#fff" stroke="#e4e4e4" stroke-width="0.6"/>
<path d="M625.4 389h141M625.4 404.4h141M625.4 419.4h141M625.4 434.4h141M696.6 404.4v45" stroke="#e4e4e4" stroke-width="0.6" fill="none"/>
<text x="627" y="386.6" font-size="7.75" font-weight="bold" fill="#000">Map</text>
<g font-size="7.15" font-style="italic" fill="#111">
<text x="627" y="396">Surface name</text>
<text x="627" y="410.8">Area</text><text x="698" y="410.8">Unit</text>
<text x="627" y="425.8">Country</text><text x="698" y="425.8">Projection</text>
<text x="627" y="440.8">Contour inc</text><text x="698" y="440.8">Geographic datum</text>
</g>
<g font-size="4.8" fill="#111" text-anchor="middle">
<text x="695.4" y="402.7">Washita/Fredericksburg</text>
<text x="660.4" y="417.5">SE Louisiana</text><text x="731.4" y="417.5">feet</text>
<text x="660.4" y="432.5">United States</text><text x="731" y="432.5">UTM83-15</text>
<text x="660.6" y="447.6">1000</text><text x="731" y="447.6">GCS_North_American_1983</text>
</g></g>
<rect x="600" y="464.5" width="180" height="41" fill="#fff"/>
<g font-size="3.6" fill="#000">
<text x="22.6" y="453.6">Produced and published by the Louisiana Geological Survey</text>
<text x="22.6" y="457.6">3079 Energy, Coast &amp; Environment Building, Louisiana State University</text>
<text x="22.6" y="461.4">Baton Rouge, LA 70803, Phone: 225-578-5320, Website: www.lsu.edu/lgs/</text>
<text x="22.6" y="469.4">This structure map was funded in part by the USGS National Cooperative</text>
<text x="22.6" y="473.2">Geologic Mapping Program under STATEMAP award number G24AC00333, 2024.</text>
<text x="22.6" y="481.1">Copyright © 2025 by the Louisiana Geological Survey</text>
<text x="22.6" y="485.1">Geology: Akinbobola Akintomide</text>
<text x="22.6" y="493.1">Well tops used in generating structure map are based on Bebout and Gutierrez (1983):</text>
<text x="22.6" y="497.1">Regional Cross Sections, Louisiana Gulf Coast (Eastern Part), Baton Rouge, Louisiana</text>
<text x="22.6" y="500.9">Louisiana Geological Survey, v. Folio Series No. 6, 10 p.:</text>
<text x="601.7" y="467.8">This research is supported by the U.S. Geological Survey, National Cooperative Geologic Mapping Program.</text>
<text x="601.7" y="471.8">The views and conclusions contained in this document are those of the authors and should not be interpreted</text>
<text x="601.7" y="475.8">as necessarily representing the official policies, either expressed or implied, of the U.S. Government or the</text>
<text x="601.7" y="479.8">state of Louisiana.</text>
<text x="601.7" y="488.2">This map has been carefully prepared from the best existing sources available at the time of preparation.</text>
<text x="601.7" y="492.1">However, the Louisiana Geological Survey and Louisiana State University do not assume responsibility</text>
<text x="601.7" y="496.1">or liability for any reliance thereon. This information is provided with the understanding that it is not</text>
<text x="601.7" y="499.9">guaranteed to be correct or complete, and conclusions drawn from such data are the sole responsibility</text>
<text x="601.7" y="503.9">of the user.</text>
</g>
<g fill="#00704a">
<rect x="36" y="529" width="9.1" height="9.7"/>
<path d="M36 531.4C39 531.6 42 535.2 45.1 536.4M36 532.5C39 532.9 42 536.1 45.1 537.3M36 533.6C39 534.1 42 536.6 45.1 537.9M36 536.4C39 536.2 42 532.6 45.1 531.4M36 535.3C39 534.9 42 531.7 45.1 530.5M36 534.4C39 533.9 42 531.2 45.1 529.9" stroke="#fff" stroke-width="0.45" stroke-opacity="0.85" fill="none"/>
<text x="46.3" y="538.75" font-size="13.3" font-weight="bold" stroke="#00704a" stroke-width="0.55" stroke-linejoin="round" textLength="27.2" lengthAdjust="spacingAndGlyphs">USGS</text>
<text x="36" y="542.2" font-size="2.9" font-style="italic" font-weight="bold" stroke="#00704a" stroke-width="0.12" textLength="36.6" lengthAdjust="spacingAndGlyphs">science for a changing world</text>
</g>
<g fill="#4d2c7c">
<text x="108.2" y="541.9" font-size="13.6" font-weight="bold" fill="#47257a" stroke="#47257a" stroke-width="0.8" textLength="33.2" lengthAdjust="spacingAndGlyphs">LSU</text>
<rect x="145.7" y="530" width="0.6" height="13"/>
<text x="150" y="534.9" font-size="6.5" font-weight="bold">Louisiana Geological</text>
<text x="150" y="541.9" font-size="6.5" font-weight="bold">Survey</text>
</g>
<rect x="244" y="534.7" width="94.4" height="5.2" fill="#fff" stroke="#ddd" stroke-width="0.4"/><rect x="244" y="534.6" width="3.8" height="5.4" fill="#000"/><rect x="251.6" y="534.6" width="3.8" height="5.4" fill="#000"/><rect x="259.1" y="534.6" width="3.8" height="5.4" fill="#000"/><rect x="281.8" y="534.6" width="18.9" height="5.4" fill="#000"/><rect x="319.5" y="534.6" width="18.9" height="5.4" fill="#000"/><g font-size="3.6" fill="#111" text-anchor="middle"><text x="244" y="530.7">0</text><text x="262.9" y="530.7">10</text><text x="281.8" y="530.7">20</text><text x="300.6" y="530.7">30</text><text x="319.5" y="530.7">40</text><text x="336.4" y="530.7" text-anchor="start">50km</text><text x="291.2" y="547.5">1:300000</text></g>
<rect x="389" y="534.7" width="151.9" height="5.2" fill="#fff" stroke="#ddd" stroke-width="0.4"/><rect x="389" y="534.6" width="6.1" height="5.4" fill="#000"/><rect x="401.2" y="534.6" width="6.1" height="5.4" fill="#000"/><rect x="413.3" y="534.6" width="6.1" height="5.4" fill="#000"/><rect x="449.8" y="534.6" width="30.4" height="5.4" fill="#000"/><rect x="510.5" y="534.6" width="30.4" height="5.4" fill="#000"/><g font-size="3.6" fill="#111" text-anchor="middle"><text x="389" y="530.7">0</text><text x="419.4" y="530.7">10</text><text x="449.8" y="530.7">20</text><text x="480.1" y="530.7">30</text><text x="510.5" y="530.7">40</text><text x="538.9" y="530.7" text-anchor="start">50miles</text><text x="464.9" y="547.5">1:300000</text></g>
<rect x="787.6" y="552.2" width="3" height="3.2" fill="#f5a623"/>
</g>
</svg></div></div></body></html>
